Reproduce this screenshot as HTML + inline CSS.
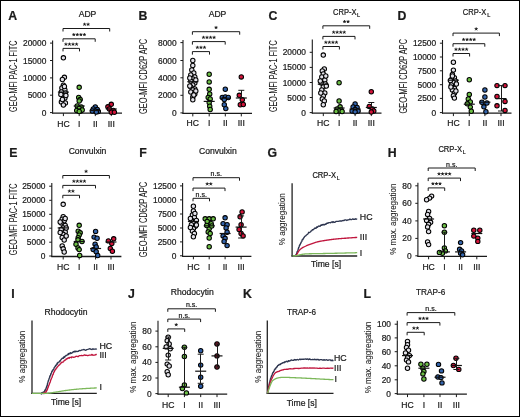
<!DOCTYPE html>
<html><head><meta charset="utf-8"><title>Figure</title>
<style>html,body{margin:0;padding:0;background:#fff;width:520px;height:417px;overflow:hidden;font-family:"Liberation Sans", sans-serif;}</style>
</head><body>
<svg width="520" height="417" viewBox="0 0 520 417" style="display:block;will-change:transform" font-family='"Liberation Sans", sans-serif' fill="#1a1a1a">
<style>text{stroke:#1a1a1a;stroke-width:0.22px;paint-order:stroke}text.v{stroke-width:0.08px}</style>
<rect x="0" y="0" width="520" height="417" fill="#fff"/>
<text x="8.3" y="19.8" font-size="12.3" text-anchor="start" font-weight="bold" stroke="#000" stroke-width="0.25">A</text>
<text x="138.6" y="19.8" font-size="12.3" text-anchor="start" font-weight="bold" stroke="#000" stroke-width="0.25">B</text>
<text x="268.4" y="19.8" font-size="12.3" text-anchor="start" font-weight="bold" stroke="#000" stroke-width="0.25">C</text>
<text x="397.6" y="19.8" font-size="12.3" text-anchor="start" font-weight="bold" stroke="#000" stroke-width="0.25">D</text>
<text x="9.2" y="157.4" font-size="12.3" text-anchor="start" font-weight="bold" stroke="#000" stroke-width="0.25">E</text>
<text x="139.2" y="157.2" font-size="12.3" text-anchor="start" font-weight="bold" stroke="#000" stroke-width="0.25">F</text>
<text x="267.6" y="157.2" font-size="12.3" text-anchor="start" font-weight="bold" stroke="#000" stroke-width="0.25">G</text>
<text x="387.8" y="157.2" font-size="12.3" text-anchor="start" font-weight="bold" stroke="#000" stroke-width="0.25">H</text>
<text x="11.2" y="298.2" font-size="12.3" text-anchor="start" font-weight="bold" stroke="#000" stroke-width="0.25">I</text>
<text x="128.0" y="298.2" font-size="12.3" text-anchor="start" font-weight="bold" stroke="#000" stroke-width="0.25">J</text>
<text x="243.0" y="298.2" font-size="12.3" text-anchor="start" font-weight="bold" stroke="#000" stroke-width="0.25">K</text>
<text x="363.4" y="298.2" font-size="12.3" text-anchor="start" font-weight="bold" stroke="#000" stroke-width="0.25">L</text>
<text x="87.5" y="17.2" font-size="8.6" text-anchor="middle">ADP</text>
<text x="217.5" y="17.2" font-size="8.6" text-anchor="middle">ADP</text>
<text x="333.0" y="14.8" font-size="8.7" textLength="23.6" lengthAdjust="spacingAndGlyphs">CRP-X</text>
<text x="357.0" y="16.70" font-size="5.6">L</text>
<text x="462.8" y="15.2" font-size="8.7" textLength="23.6" lengthAdjust="spacingAndGlyphs">CRP-X</text>
<text x="487.2" y="17.10" font-size="5.6">L</text>
<text x="87.5" y="154.4" font-size="8.6" text-anchor="middle">Convulxin</text>
<text x="217.8" y="154.4" font-size="8.6" text-anchor="middle">Convulxin</text>
<text x="438.4" y="151.8" font-size="8.7" textLength="23.6" lengthAdjust="spacingAndGlyphs">CRP-X</text>
<text x="462.8" y="153.70" font-size="5.2">L</text>
<text x="192.3" y="294.8" font-size="8.6" text-anchor="middle">Rhodocytin</text>
<text x="430.6" y="295.0" font-size="8.6" text-anchor="middle" textLength="29.2" lengthAdjust="spacingAndGlyphs">TRAP-6</text>
<text class="v" transform="translate(17.1,76.2) rotate(-90)" x="0" y="0" font-size="10.5" text-anchor="middle" textLength="71.4" lengthAdjust="spacingAndGlyphs">GEO-MFI PAC-1 FITC</text>
<text class="v" transform="translate(146.8,76.4) rotate(-90)" x="0" y="0" font-size="10.5" text-anchor="middle" textLength="75.2" lengthAdjust="spacingAndGlyphs">GEO-MFI CD62P APC</text>
<text class="v" transform="translate(276.8,76.2) rotate(-90)" x="0" y="0" font-size="10.5" text-anchor="middle" textLength="71.8" lengthAdjust="spacingAndGlyphs">GEO-MFI PAC-1 FITC</text>
<text class="v" transform="translate(406.9,76.2) rotate(-90)" x="0" y="0" font-size="10.5" text-anchor="middle" textLength="74.7" lengthAdjust="spacingAndGlyphs">GEO-MFI CD62P APC</text>
<text class="v" transform="translate(17.1,219.3) rotate(-90)" x="0" y="0" font-size="10.5" text-anchor="middle" textLength="71.8" lengthAdjust="spacingAndGlyphs">GEO-MFI PAC-1 FITC</text>
<text class="v" transform="translate(146.8,219.5) rotate(-90)" x="0" y="0" font-size="10.5" text-anchor="middle" textLength="75.3" lengthAdjust="spacingAndGlyphs">GEO-MFI CD62P APC</text>
<text class="v" transform="translate(396.2,219.2) rotate(-90)" x="0" y="0" font-size="9.3" text-anchor="middle" textLength="71.3" lengthAdjust="spacingAndGlyphs">% max. aggregation</text>
<text class="v" transform="translate(136.1,357.2) rotate(-90)" x="0" y="0" font-size="9.3" text-anchor="middle" textLength="71.2" lengthAdjust="spacingAndGlyphs">% max. aggregation</text>
<text class="v" transform="translate(370.7,357.5) rotate(-90)" x="0" y="0" font-size="9.3" text-anchor="middle" textLength="71.7" lengthAdjust="spacingAndGlyphs">% max. aggregation</text>
<line x1="52.6" y1="40.4" x2="52.6" y2="113.6" stroke="#1a1a1a" stroke-width="1.1"/>
<line x1="52.1" y1="113.1" x2="122" y2="113.1" stroke="#1a1a1a" stroke-width="1.3"/>
<line x1="50.0" y1="112.6" x2="52.6" y2="112.6" stroke="#1a1a1a" stroke-width="1.0"/>
<text x="46.300000000000004" y="115.6" font-size="8.4" text-anchor="end">0</text>
<line x1="50.0" y1="95.2" x2="52.6" y2="95.2" stroke="#1a1a1a" stroke-width="1.0"/>
<text x="46.300000000000004" y="98.2" font-size="8.4" text-anchor="end">5000</text>
<line x1="50.0" y1="77.9" x2="52.6" y2="77.9" stroke="#1a1a1a" stroke-width="1.0"/>
<text x="46.300000000000004" y="80.9" font-size="8.4" text-anchor="end">10000</text>
<line x1="50.0" y1="60.5" x2="52.6" y2="60.5" stroke="#1a1a1a" stroke-width="1.0"/>
<text x="46.300000000000004" y="63.5" font-size="8.4" text-anchor="end">15000</text>
<line x1="50.0" y1="43.1" x2="52.6" y2="43.1" stroke="#1a1a1a" stroke-width="1.0"/>
<text x="46.300000000000004" y="46.1" font-size="8.4" text-anchor="end">20000</text>
<line x1="63.4" y1="113.1" x2="63.4" y2="116.1" stroke="#1a1a1a" stroke-width="1.0"/>
<text x="63.4" y="126.6" font-size="8.6" text-anchor="middle">HC</text>
<line x1="79.2" y1="113.1" x2="79.2" y2="116.1" stroke="#1a1a1a" stroke-width="1.0"/>
<text x="79.2" y="126.6" font-size="8.6" text-anchor="middle">I</text>
<line x1="95.3" y1="113.1" x2="95.3" y2="116.1" stroke="#1a1a1a" stroke-width="1.0"/>
<text x="95.3" y="126.6" font-size="8.6" text-anchor="middle">II</text>
<line x1="111.3" y1="113.1" x2="111.3" y2="116.1" stroke="#1a1a1a" stroke-width="1.0"/>
<text x="111.3" y="126.6" font-size="8.6" text-anchor="middle">III</text>
<circle cx="63.40" cy="57.80" r="2.2" fill="#e2e1e8" stroke="#000" stroke-width="1.05"/>
<circle cx="64.40" cy="77.30" r="2.2" fill="#e2e1e8" stroke="#000" stroke-width="1.05"/>
<circle cx="62.40" cy="79.50" r="2.2" fill="#e2e1e8" stroke="#000" stroke-width="1.05"/>
<circle cx="63.40" cy="85.10" r="2.2" fill="#e2e1e8" stroke="#000" stroke-width="1.05"/>
<circle cx="61.90" cy="88.00" r="2.2" fill="#e2e1e8" stroke="#000" stroke-width="1.05"/>
<circle cx="64.90" cy="90.00" r="2.2" fill="#e2e1e8" stroke="#000" stroke-width="1.05"/>
<circle cx="61.40" cy="92.00" r="2.2" fill="#e2e1e8" stroke="#000" stroke-width="1.05"/>
<circle cx="65.40" cy="93.00" r="2.2" fill="#e2e1e8" stroke="#000" stroke-width="1.05"/>
<circle cx="63.40" cy="96.00" r="2.2" fill="#e2e1e8" stroke="#000" stroke-width="1.05"/>
<circle cx="64.90" cy="98.00" r="2.2" fill="#e2e1e8" stroke="#000" stroke-width="1.05"/>
<circle cx="61.40" cy="102.00" r="2.2" fill="#e2e1e8" stroke="#000" stroke-width="1.05"/>
<circle cx="65.40" cy="103.00" r="2.2" fill="#e2e1e8" stroke="#000" stroke-width="1.05"/>
<circle cx="63.40" cy="105.00" r="2.2" fill="#e2e1e8" stroke="#000" stroke-width="1.05"/>
<circle cx="60.90" cy="94.50" r="2.2" fill="#e2e1e8" stroke="#000" stroke-width="1.05"/>
<circle cx="65.90" cy="95.50" r="2.2" fill="#e2e1e8" stroke="#000" stroke-width="1.05"/>
<circle cx="62.40" cy="99.50" r="2.2" fill="#e2e1e8" stroke="#000" stroke-width="1.05"/>
<circle cx="64.40" cy="86.50" r="2.2" fill="#e2e1e8" stroke="#000" stroke-width="1.05"/>
<circle cx="79.20" cy="87.30" r="2.2" fill="#6cbf45" stroke="#000" stroke-width="1.05"/>
<circle cx="78.70" cy="97.50" r="2.2" fill="#6cbf45" stroke="#000" stroke-width="1.05"/>
<circle cx="80.20" cy="99.50" r="2.2" fill="#6cbf45" stroke="#000" stroke-width="1.05"/>
<circle cx="79.20" cy="101.00" r="2.2" fill="#6cbf45" stroke="#000" stroke-width="1.05"/>
<circle cx="77.20" cy="106.00" r="2.2" fill="#6cbf45" stroke="#000" stroke-width="1.05"/>
<circle cx="81.20" cy="107.00" r="2.2" fill="#6cbf45" stroke="#000" stroke-width="1.05"/>
<circle cx="79.20" cy="108.50" r="2.2" fill="#6cbf45" stroke="#000" stroke-width="1.05"/>
<circle cx="76.70" cy="110.50" r="2.2" fill="#6cbf45" stroke="#000" stroke-width="1.05"/>
<circle cx="80.70" cy="111.00" r="2.2" fill="#6cbf45" stroke="#000" stroke-width="1.05"/>
<circle cx="82.20" cy="110.00" r="2.2" fill="#6cbf45" stroke="#000" stroke-width="1.05"/>
<circle cx="79.20" cy="111.50" r="2.2" fill="#6cbf45" stroke="#000" stroke-width="1.05"/>
<circle cx="95.30" cy="107.00" r="2.2" fill="#3465ad" stroke="#000" stroke-width="1.05"/>
<circle cx="93.30" cy="109.00" r="2.2" fill="#3465ad" stroke="#000" stroke-width="1.05"/>
<circle cx="97.30" cy="109.50" r="2.2" fill="#3465ad" stroke="#000" stroke-width="1.05"/>
<circle cx="95.30" cy="111.00" r="2.2" fill="#3465ad" stroke="#000" stroke-width="1.05"/>
<circle cx="92.30" cy="111.00" r="2.2" fill="#3465ad" stroke="#000" stroke-width="1.05"/>
<circle cx="98.30" cy="111.50" r="2.2" fill="#3465ad" stroke="#000" stroke-width="1.05"/>
<circle cx="96.30" cy="112.00" r="2.2" fill="#3465ad" stroke="#000" stroke-width="1.05"/>
<circle cx="111.30" cy="104.30" r="2.2" fill="#d3143a" stroke="#000" stroke-width="1.05"/>
<circle cx="107.90" cy="106.80" r="2.2" fill="#d3143a" stroke="#000" stroke-width="1.05"/>
<circle cx="109.40" cy="109.00" r="2.2" fill="#d3143a" stroke="#000" stroke-width="1.05"/>
<circle cx="113.30" cy="110.50" r="2.2" fill="#d3143a" stroke="#000" stroke-width="1.05"/>
<circle cx="111.30" cy="112.20" r="2.2" fill="#d3143a" stroke="#000" stroke-width="1.05"/>
<circle cx="114.40" cy="112.20" r="2.2" fill="#d3143a" stroke="#000" stroke-width="1.05"/>
<line x1="57.9" y1="92.1" x2="68.9" y2="92.1" stroke="#111" stroke-width="1.2"/>
<line x1="73.7" y1="106" x2="84.7" y2="106" stroke="#111" stroke-width="1.2"/>
<line x1="89.8" y1="110.5" x2="100.8" y2="110.5" stroke="#111" stroke-width="1.2"/>
<line x1="105.8" y1="109" x2="116.8" y2="109" stroke="#111" stroke-width="1.2"/>
<path d="M63.0,31.5 V28.5 H109.7 V31.5" fill="none" stroke="#1a1a1a" stroke-width="1.0"/>
<path d="M84.57,24.40L84.57,23.15M84.57,24.40L85.76,24.01M84.57,24.40L85.31,25.41M84.57,24.40L83.84,25.41M84.57,24.40L83.39,24.01" stroke="#1a1a1a" stroke-width="0.9" stroke-linecap="round" fill="none"/>
<path d="M88.12,24.40L88.12,23.15M88.12,24.40L89.31,24.01M88.12,24.40L88.86,25.41M88.12,24.40L87.39,25.41M88.12,24.40L86.94,24.01" stroke="#1a1a1a" stroke-width="0.9" stroke-linecap="round" fill="none"/>
<path d="M63.0,41.8 V38.8 H95.2 V41.8" fill="none" stroke="#1a1a1a" stroke-width="1.0"/>
<path d="M73.77,34.70L73.77,33.45M73.77,34.70L74.96,34.31M73.77,34.70L74.51,35.71M73.77,34.70L73.04,35.71M73.77,34.70L72.59,34.31" stroke="#1a1a1a" stroke-width="0.9" stroke-linecap="round" fill="none"/>
<path d="M77.32,34.70L77.32,33.45M77.32,34.70L78.51,34.31M77.32,34.70L78.06,35.71M77.32,34.70L76.59,35.71M77.32,34.70L76.14,34.31" stroke="#1a1a1a" stroke-width="0.9" stroke-linecap="round" fill="none"/>
<path d="M80.87,34.70L80.87,33.45M80.87,34.70L82.06,34.31M80.87,34.70L81.61,35.71M80.87,34.70L80.14,35.71M80.87,34.70L79.69,34.31" stroke="#1a1a1a" stroke-width="0.9" stroke-linecap="round" fill="none"/>
<path d="M84.42,34.70L84.42,33.45M84.42,34.70L85.61,34.31M84.42,34.70L85.16,35.71M84.42,34.70L83.69,35.71M84.42,34.70L83.24,34.31" stroke="#1a1a1a" stroke-width="0.9" stroke-linecap="round" fill="none"/>
<path d="M63.0,51.4 V48.4 H79.5 V51.4" fill="none" stroke="#1a1a1a" stroke-width="1.0"/>
<path d="M65.92,44.30L65.92,43.05M65.92,44.30L67.11,43.91M65.92,44.30L66.66,45.31M65.92,44.30L65.19,45.31M65.92,44.30L64.74,43.91" stroke="#1a1a1a" stroke-width="0.9" stroke-linecap="round" fill="none"/>
<path d="M69.47,44.30L69.47,43.05M69.47,44.30L70.66,43.91M69.47,44.30L70.21,45.31M69.47,44.30L68.74,45.31M69.47,44.30L68.29,43.91" stroke="#1a1a1a" stroke-width="0.9" stroke-linecap="round" fill="none"/>
<path d="M73.02,44.30L73.02,43.05M73.02,44.30L74.21,43.91M73.02,44.30L73.76,45.31M73.02,44.30L72.29,45.31M73.02,44.30L71.84,43.91" stroke="#1a1a1a" stroke-width="0.9" stroke-linecap="round" fill="none"/>
<path d="M76.57,44.30L76.57,43.05M76.57,44.30L77.76,43.91M76.57,44.30L77.31,45.31M76.57,44.30L75.84,45.31M76.57,44.30L75.39,43.91" stroke="#1a1a1a" stroke-width="0.9" stroke-linecap="round" fill="none"/>
<line x1="183" y1="39.9" x2="183" y2="113.9" stroke="#1a1a1a" stroke-width="1.1"/>
<line x1="182.5" y1="113.4" x2="252" y2="113.4" stroke="#1a1a1a" stroke-width="1.3"/>
<line x1="180.4" y1="112.9" x2="183" y2="112.9" stroke="#1a1a1a" stroke-width="1.0"/>
<text x="176.7" y="115.9" font-size="8.4" text-anchor="end">0</text>
<line x1="180.4" y1="95.3" x2="183" y2="95.3" stroke="#1a1a1a" stroke-width="1.0"/>
<text x="176.7" y="98.3" font-size="8.4" text-anchor="end">2000</text>
<line x1="180.4" y1="77.8" x2="183" y2="77.8" stroke="#1a1a1a" stroke-width="1.0"/>
<text x="176.7" y="80.8" font-size="8.4" text-anchor="end">4000</text>
<line x1="180.4" y1="60.5" x2="183" y2="60.5" stroke="#1a1a1a" stroke-width="1.0"/>
<text x="176.7" y="63.5" font-size="8.4" text-anchor="end">6000</text>
<line x1="180.4" y1="42.6" x2="183" y2="42.6" stroke="#1a1a1a" stroke-width="1.0"/>
<text x="176.7" y="45.6" font-size="8.4" text-anchor="end">8000</text>
<line x1="192.8" y1="113.4" x2="192.8" y2="116.4" stroke="#1a1a1a" stroke-width="1.0"/>
<text x="192.8" y="126.4" font-size="8.6" text-anchor="middle">HC</text>
<line x1="209.2" y1="113.4" x2="209.2" y2="116.4" stroke="#1a1a1a" stroke-width="1.0"/>
<text x="209.2" y="126.4" font-size="8.6" text-anchor="middle">I</text>
<line x1="225.3" y1="113.4" x2="225.3" y2="116.4" stroke="#1a1a1a" stroke-width="1.0"/>
<text x="225.3" y="126.4" font-size="8.6" text-anchor="middle">II</text>
<line x1="241.3" y1="113.4" x2="241.3" y2="116.4" stroke="#1a1a1a" stroke-width="1.0"/>
<text x="241.3" y="126.4" font-size="8.6" text-anchor="middle">III</text>
<circle cx="192.80" cy="60.50" r="2.2" fill="#e2e1e8" stroke="#000" stroke-width="1.05"/>
<circle cx="192.80" cy="65.50" r="2.2" fill="#e2e1e8" stroke="#000" stroke-width="1.05"/>
<circle cx="191.80" cy="70.00" r="2.2" fill="#e2e1e8" stroke="#000" stroke-width="1.05"/>
<circle cx="193.80" cy="73.00" r="2.2" fill="#e2e1e8" stroke="#000" stroke-width="1.05"/>
<circle cx="190.80" cy="75.00" r="2.2" fill="#e2e1e8" stroke="#000" stroke-width="1.05"/>
<circle cx="194.80" cy="77.00" r="2.2" fill="#e2e1e8" stroke="#000" stroke-width="1.05"/>
<circle cx="192.80" cy="79.00" r="2.2" fill="#e2e1e8" stroke="#000" stroke-width="1.05"/>
<circle cx="190.80" cy="81.00" r="2.2" fill="#e2e1e8" stroke="#000" stroke-width="1.05"/>
<circle cx="194.80" cy="83.00" r="2.2" fill="#e2e1e8" stroke="#000" stroke-width="1.05"/>
<circle cx="192.80" cy="85.00" r="2.2" fill="#e2e1e8" stroke="#000" stroke-width="1.05"/>
<circle cx="190.80" cy="87.00" r="2.2" fill="#e2e1e8" stroke="#000" stroke-width="1.05"/>
<circle cx="194.80" cy="89.00" r="2.2" fill="#e2e1e8" stroke="#000" stroke-width="1.05"/>
<circle cx="192.80" cy="90.00" r="2.2" fill="#e2e1e8" stroke="#000" stroke-width="1.05"/>
<circle cx="190.80" cy="92.00" r="2.2" fill="#e2e1e8" stroke="#000" stroke-width="1.05"/>
<circle cx="194.80" cy="94.00" r="2.2" fill="#e2e1e8" stroke="#000" stroke-width="1.05"/>
<circle cx="192.80" cy="97.00" r="2.2" fill="#e2e1e8" stroke="#000" stroke-width="1.05"/>
<circle cx="192.80" cy="99.70" r="2.2" fill="#e2e1e8" stroke="#000" stroke-width="1.05"/>
<circle cx="189.80" cy="78.00" r="2.2" fill="#e2e1e8" stroke="#000" stroke-width="1.05"/>
<circle cx="195.80" cy="80.00" r="2.2" fill="#e2e1e8" stroke="#000" stroke-width="1.05"/>
<circle cx="189.80" cy="86.00" r="2.2" fill="#e2e1e8" stroke="#000" stroke-width="1.05"/>
<circle cx="195.80" cy="91.00" r="2.2" fill="#e2e1e8" stroke="#000" stroke-width="1.05"/>
<circle cx="193.80" cy="95.00" r="2.2" fill="#e2e1e8" stroke="#000" stroke-width="1.05"/>
<circle cx="209.20" cy="74.20" r="2.2" fill="#6cbf45" stroke="#000" stroke-width="1.05"/>
<circle cx="209.20" cy="81.90" r="2.2" fill="#6cbf45" stroke="#000" stroke-width="1.05"/>
<circle cx="209.20" cy="89.30" r="2.2" fill="#6cbf45" stroke="#000" stroke-width="1.05"/>
<circle cx="209.70" cy="93.90" r="2.2" fill="#6cbf45" stroke="#000" stroke-width="1.05"/>
<circle cx="208.20" cy="97.50" r="2.2" fill="#6cbf45" stroke="#000" stroke-width="1.05"/>
<circle cx="210.20" cy="99.00" r="2.2" fill="#6cbf45" stroke="#000" stroke-width="1.05"/>
<circle cx="209.20" cy="102.50" r="2.2" fill="#6cbf45" stroke="#000" stroke-width="1.05"/>
<circle cx="209.70" cy="106.20" r="2.2" fill="#6cbf45" stroke="#000" stroke-width="1.05"/>
<circle cx="210.20" cy="109.50" r="2.2" fill="#6cbf45" stroke="#000" stroke-width="1.05"/>
<circle cx="225.30" cy="89.20" r="2.2" fill="#3465ad" stroke="#000" stroke-width="1.05"/>
<circle cx="222.30" cy="97.50" r="2.2" fill="#3465ad" stroke="#000" stroke-width="1.05"/>
<circle cx="225.30" cy="97.00" r="2.2" fill="#3465ad" stroke="#000" stroke-width="1.05"/>
<circle cx="228.30" cy="97.50" r="2.2" fill="#3465ad" stroke="#000" stroke-width="1.05"/>
<circle cx="224.30" cy="99.50" r="2.2" fill="#3465ad" stroke="#000" stroke-width="1.05"/>
<circle cx="224.30" cy="104.70" r="2.2" fill="#3465ad" stroke="#000" stroke-width="1.05"/>
<circle cx="225.80" cy="108.60" r="2.2" fill="#3465ad" stroke="#000" stroke-width="1.05"/>
<circle cx="241.30" cy="76.90" r="2.2" fill="#d3143a" stroke="#000" stroke-width="1.05"/>
<circle cx="239.30" cy="95.30" r="2.2" fill="#d3143a" stroke="#000" stroke-width="1.05"/>
<circle cx="242.30" cy="99.70" r="2.2" fill="#d3143a" stroke="#000" stroke-width="1.05"/>
<circle cx="240.30" cy="104.70" r="2.2" fill="#d3143a" stroke="#000" stroke-width="1.05"/>
<circle cx="243.30" cy="104.50" r="2.2" fill="#d3143a" stroke="#000" stroke-width="1.05"/>
<line x1="187.3" y1="81.7" x2="198.3" y2="81.7" stroke="#111" stroke-width="1.2"/>
<line x1="203.7" y1="101.4" x2="214.7" y2="101.4" stroke="#111" stroke-width="1.2"/>
<line x1="219.8" y1="98.2" x2="230.8" y2="98.2" stroke="#111" stroke-width="1.2"/>
<line x1="235.8" y1="98" x2="246.8" y2="98" stroke="#111" stroke-width="1.2"/>
<line x1="241.5" y1="90.3" x2="241.5" y2="98" stroke="#1a1a1a" stroke-width="1.0"/>
<line x1="238.3" y1="90.3" x2="244.3" y2="90.3" stroke="#1a1a1a" stroke-width="1.0"/>
<path d="M192.4,34.7 V31.7 H239.70000000000002 V34.7" fill="none" stroke="#1a1a1a" stroke-width="1.0"/>
<path d="M216.05,27.60L216.05,26.35M216.05,27.60L217.24,27.21M216.05,27.60L216.78,28.61M216.05,27.60L215.32,28.61M216.05,27.60L214.86,27.21" stroke="#1a1a1a" stroke-width="0.9" stroke-linecap="round" fill="none"/>
<path d="M192.4,44.6 V41.6 H225.20000000000002 V44.6" fill="none" stroke="#1a1a1a" stroke-width="1.0"/>
<path d="M203.48,37.50L203.48,36.25M203.48,37.50L204.66,37.11M203.48,37.50L204.21,38.51M203.48,37.50L202.74,38.51M203.48,37.50L202.29,37.11" stroke="#1a1a1a" stroke-width="0.9" stroke-linecap="round" fill="none"/>
<path d="M207.03,37.50L207.03,36.25M207.03,37.50L208.21,37.11M207.03,37.50L207.76,38.51M207.03,37.50L206.29,38.51M207.03,37.50L205.84,37.11" stroke="#1a1a1a" stroke-width="0.9" stroke-linecap="round" fill="none"/>
<path d="M210.58,37.50L210.58,36.25M210.58,37.50L211.76,37.11M210.58,37.50L211.31,38.51M210.58,37.50L209.84,38.51M210.58,37.50L209.39,37.11" stroke="#1a1a1a" stroke-width="0.9" stroke-linecap="round" fill="none"/>
<path d="M214.13,37.50L214.13,36.25M214.13,37.50L215.31,37.11M214.13,37.50L214.86,38.51M214.13,37.50L213.39,38.51M214.13,37.50L212.94,37.11" stroke="#1a1a1a" stroke-width="0.9" stroke-linecap="round" fill="none"/>
<path d="M192.4,54.6 V51.6 H209.5 V54.6" fill="none" stroke="#1a1a1a" stroke-width="1.0"/>
<path d="M197.40,47.50L197.40,46.25M197.40,47.50L198.59,47.11M197.40,47.50L198.13,48.51M197.40,47.50L196.67,48.51M197.40,47.50L196.21,47.11" stroke="#1a1a1a" stroke-width="0.9" stroke-linecap="round" fill="none"/>
<path d="M200.95,47.50L200.95,46.25M200.95,47.50L202.14,47.11M200.95,47.50L201.68,48.51M200.95,47.50L200.22,48.51M200.95,47.50L199.76,47.11" stroke="#1a1a1a" stroke-width="0.9" stroke-linecap="round" fill="none"/>
<path d="M204.50,47.50L204.50,46.25M204.50,47.50L205.69,47.11M204.50,47.50L205.23,48.51M204.50,47.50L203.77,48.51M204.50,47.50L203.31,47.11" stroke="#1a1a1a" stroke-width="0.9" stroke-linecap="round" fill="none"/>
<line x1="312.3" y1="39.6" x2="312.3" y2="113.6" stroke="#1a1a1a" stroke-width="1.1"/>
<line x1="311.8" y1="113.1" x2="381.5" y2="113.1" stroke="#1a1a1a" stroke-width="1.3"/>
<line x1="309.7" y1="112.6" x2="312.3" y2="112.6" stroke="#1a1a1a" stroke-width="1.0"/>
<text x="306.0" y="115.6" font-size="8.4" text-anchor="end">0</text>
<line x1="309.7" y1="97.5" x2="312.3" y2="97.5" stroke="#1a1a1a" stroke-width="1.0"/>
<text x="306.0" y="100.5" font-size="8.4" text-anchor="end">5000</text>
<line x1="309.7" y1="82.5" x2="312.3" y2="82.5" stroke="#1a1a1a" stroke-width="1.0"/>
<text x="306.0" y="85.5" font-size="8.4" text-anchor="end">10000</text>
<line x1="309.7" y1="67.4" x2="312.3" y2="67.4" stroke="#1a1a1a" stroke-width="1.0"/>
<text x="306.0" y="70.4" font-size="8.4" text-anchor="end">15000</text>
<line x1="309.7" y1="52.3" x2="312.3" y2="52.3" stroke="#1a1a1a" stroke-width="1.0"/>
<text x="306.0" y="55.3" font-size="8.4" text-anchor="end">20000</text>
<line x1="323.3" y1="113.1" x2="323.3" y2="116.1" stroke="#1a1a1a" stroke-width="1.0"/>
<text x="323.3" y="126.0" font-size="8.6" text-anchor="middle">HC</text>
<line x1="339.1" y1="113.1" x2="339.1" y2="116.1" stroke="#1a1a1a" stroke-width="1.0"/>
<text x="339.1" y="126.0" font-size="8.6" text-anchor="middle">I</text>
<line x1="355.1" y1="113.1" x2="355.1" y2="116.1" stroke="#1a1a1a" stroke-width="1.0"/>
<text x="355.1" y="126.0" font-size="8.6" text-anchor="middle">II</text>
<line x1="371.3" y1="113.1" x2="371.3" y2="116.1" stroke="#1a1a1a" stroke-width="1.0"/>
<text x="371.3" y="126.0" font-size="8.6" text-anchor="middle">III</text>
<circle cx="323.30" cy="55.10" r="2.2" fill="#e2e1e8" stroke="#000" stroke-width="1.05"/>
<circle cx="324.30" cy="69.00" r="2.2" fill="#e2e1e8" stroke="#000" stroke-width="1.05"/>
<circle cx="322.30" cy="71.00" r="2.2" fill="#e2e1e8" stroke="#000" stroke-width="1.05"/>
<circle cx="323.30" cy="74.00" r="2.2" fill="#e2e1e8" stroke="#000" stroke-width="1.05"/>
<circle cx="321.80" cy="77.00" r="2.2" fill="#e2e1e8" stroke="#000" stroke-width="1.05"/>
<circle cx="324.80" cy="80.00" r="2.2" fill="#e2e1e8" stroke="#000" stroke-width="1.05"/>
<circle cx="321.30" cy="83.00" r="2.2" fill="#e2e1e8" stroke="#000" stroke-width="1.05"/>
<circle cx="325.30" cy="84.00" r="2.2" fill="#e2e1e8" stroke="#000" stroke-width="1.05"/>
<circle cx="323.30" cy="87.00" r="2.2" fill="#e2e1e8" stroke="#000" stroke-width="1.05"/>
<circle cx="321.80" cy="90.00" r="2.2" fill="#e2e1e8" stroke="#000" stroke-width="1.05"/>
<circle cx="324.80" cy="93.00" r="2.2" fill="#e2e1e8" stroke="#000" stroke-width="1.05"/>
<circle cx="323.30" cy="96.00" r="2.2" fill="#e2e1e8" stroke="#000" stroke-width="1.05"/>
<circle cx="322.30" cy="99.00" r="2.2" fill="#e2e1e8" stroke="#000" stroke-width="1.05"/>
<circle cx="324.30" cy="101.00" r="2.2" fill="#e2e1e8" stroke="#000" stroke-width="1.05"/>
<circle cx="323.30" cy="104.70" r="2.2" fill="#e2e1e8" stroke="#000" stroke-width="1.05"/>
<circle cx="320.30" cy="81.00" r="2.2" fill="#e2e1e8" stroke="#000" stroke-width="1.05"/>
<circle cx="326.30" cy="86.00" r="2.2" fill="#e2e1e8" stroke="#000" stroke-width="1.05"/>
<circle cx="320.80" cy="93.00" r="2.2" fill="#e2e1e8" stroke="#000" stroke-width="1.05"/>
<circle cx="325.80" cy="76.00" r="2.2" fill="#e2e1e8" stroke="#000" stroke-width="1.05"/>
<circle cx="339.10" cy="82.70" r="2.2" fill="#6cbf45" stroke="#000" stroke-width="1.05"/>
<circle cx="339.10" cy="101.00" r="2.2" fill="#6cbf45" stroke="#000" stroke-width="1.05"/>
<circle cx="340.10" cy="106.80" r="2.2" fill="#6cbf45" stroke="#000" stroke-width="1.05"/>
<circle cx="337.10" cy="109.00" r="2.2" fill="#6cbf45" stroke="#000" stroke-width="1.05"/>
<circle cx="341.10" cy="110.00" r="2.2" fill="#6cbf45" stroke="#000" stroke-width="1.05"/>
<circle cx="339.10" cy="111.00" r="2.2" fill="#6cbf45" stroke="#000" stroke-width="1.05"/>
<circle cx="336.10" cy="111.50" r="2.2" fill="#6cbf45" stroke="#000" stroke-width="1.05"/>
<circle cx="342.10" cy="111.50" r="2.2" fill="#6cbf45" stroke="#000" stroke-width="1.05"/>
<circle cx="355.10" cy="104.00" r="2.2" fill="#3465ad" stroke="#000" stroke-width="1.05"/>
<circle cx="353.10" cy="107.00" r="2.2" fill="#3465ad" stroke="#000" stroke-width="1.05"/>
<circle cx="357.10" cy="107.50" r="2.2" fill="#3465ad" stroke="#000" stroke-width="1.05"/>
<circle cx="355.10" cy="109.50" r="2.2" fill="#3465ad" stroke="#000" stroke-width="1.05"/>
<circle cx="352.10" cy="111.00" r="2.2" fill="#3465ad" stroke="#000" stroke-width="1.05"/>
<circle cx="358.10" cy="111.00" r="2.2" fill="#3465ad" stroke="#000" stroke-width="1.05"/>
<circle cx="355.10" cy="111.80" r="2.2" fill="#3465ad" stroke="#000" stroke-width="1.05"/>
<circle cx="371.30" cy="91.70" r="2.2" fill="#d3143a" stroke="#000" stroke-width="1.05"/>
<circle cx="369.30" cy="106.40" r="2.2" fill="#d3143a" stroke="#000" stroke-width="1.05"/>
<circle cx="372.30" cy="109.00" r="2.2" fill="#d3143a" stroke="#000" stroke-width="1.05"/>
<circle cx="373.80" cy="111.00" r="2.2" fill="#d3143a" stroke="#000" stroke-width="1.05"/>
<circle cx="371.30" cy="112.00" r="2.2" fill="#d3143a" stroke="#000" stroke-width="1.05"/>
<line x1="317.8" y1="84.2" x2="328.8" y2="84.2" stroke="#111" stroke-width="1.2"/>
<line x1="333.6" y1="108" x2="344.6" y2="108" stroke="#111" stroke-width="1.2"/>
<line x1="349.6" y1="109" x2="360.6" y2="109" stroke="#111" stroke-width="1.2"/>
<line x1="365.8" y1="107.5" x2="376.8" y2="107.5" stroke="#111" stroke-width="1.2"/>
<line x1="371.5" y1="102.5" x2="371.5" y2="107.5" stroke="#1a1a1a" stroke-width="1.0"/>
<line x1="368.3" y1="102.5" x2="374.3" y2="102.5" stroke="#1a1a1a" stroke-width="1.0"/>
<path d="M322.90000000000003,28.8 V25.8 H369.7 V28.8" fill="none" stroke="#1a1a1a" stroke-width="1.0"/>
<path d="M344.53,21.70L344.53,20.45M344.53,21.70L345.71,21.31M344.53,21.70L345.26,22.71M344.53,21.70L343.79,22.71M344.53,21.70L343.34,21.31" stroke="#1a1a1a" stroke-width="0.9" stroke-linecap="round" fill="none"/>
<path d="M348.08,21.70L348.08,20.45M348.08,21.70L349.26,21.31M348.08,21.70L348.81,22.71M348.08,21.70L347.34,22.71M348.08,21.70L346.89,21.31" stroke="#1a1a1a" stroke-width="0.9" stroke-linecap="round" fill="none"/>
<path d="M322.90000000000003,39.4 V36.4 H355.0 V39.4" fill="none" stroke="#1a1a1a" stroke-width="1.0"/>
<path d="M333.63,32.30L333.63,31.05M333.63,32.30L334.81,31.91M333.63,32.30L334.36,33.31M333.63,32.30L332.89,33.31M333.63,32.30L332.44,31.91" stroke="#1a1a1a" stroke-width="0.9" stroke-linecap="round" fill="none"/>
<path d="M337.18,32.30L337.18,31.05M337.18,32.30L338.36,31.91M337.18,32.30L337.91,33.31M337.18,32.30L336.44,33.31M337.18,32.30L335.99,31.91" stroke="#1a1a1a" stroke-width="0.9" stroke-linecap="round" fill="none"/>
<path d="M340.73,32.30L340.73,31.05M340.73,32.30L341.91,31.91M340.73,32.30L341.46,33.31M340.73,32.30L339.99,33.31M340.73,32.30L339.54,31.91" stroke="#1a1a1a" stroke-width="0.9" stroke-linecap="round" fill="none"/>
<path d="M344.28,32.30L344.28,31.05M344.28,32.30L345.46,31.91M344.28,32.30L345.01,33.31M344.28,32.30L343.54,33.31M344.28,32.30L343.09,31.91" stroke="#1a1a1a" stroke-width="0.9" stroke-linecap="round" fill="none"/>
<path d="M322.90000000000003,49.5 V46.5 H339.40000000000003 V49.5" fill="none" stroke="#1a1a1a" stroke-width="1.0"/>
<path d="M325.83,42.40L325.83,41.15M325.83,42.40L327.01,42.01M325.83,42.40L326.56,43.41M325.83,42.40L325.09,43.41M325.83,42.40L324.64,42.01" stroke="#1a1a1a" stroke-width="0.9" stroke-linecap="round" fill="none"/>
<path d="M329.38,42.40L329.38,41.15M329.38,42.40L330.56,42.01M329.38,42.40L330.11,43.41M329.38,42.40L328.64,43.41M329.38,42.40L328.19,42.01" stroke="#1a1a1a" stroke-width="0.9" stroke-linecap="round" fill="none"/>
<path d="M332.93,42.40L332.93,41.15M332.93,42.40L334.11,42.01M332.93,42.40L333.66,43.41M332.93,42.40L332.19,43.41M332.93,42.40L331.74,42.01" stroke="#1a1a1a" stroke-width="0.9" stroke-linecap="round" fill="none"/>
<path d="M336.48,42.40L336.48,41.15M336.48,42.40L337.66,42.01M336.48,42.40L337.21,43.41M336.48,42.40L335.74,43.41M336.48,42.40L335.29,42.01" stroke="#1a1a1a" stroke-width="0.9" stroke-linecap="round" fill="none"/>
<line x1="442.5" y1="40.0" x2="442.5" y2="113.6" stroke="#1a1a1a" stroke-width="1.1"/>
<line x1="442.0" y1="113.1" x2="511.5" y2="113.1" stroke="#1a1a1a" stroke-width="1.3"/>
<line x1="439.9" y1="112.6" x2="442.5" y2="112.6" stroke="#1a1a1a" stroke-width="1.0"/>
<text x="436.2" y="115.6" font-size="8.4" text-anchor="end">0</text>
<line x1="439.9" y1="98.4" x2="442.5" y2="98.4" stroke="#1a1a1a" stroke-width="1.0"/>
<text x="436.2" y="101.4" font-size="8.4" text-anchor="end">2500</text>
<line x1="439.9" y1="84.7" x2="442.5" y2="84.7" stroke="#1a1a1a" stroke-width="1.0"/>
<text x="436.2" y="87.7" font-size="8.4" text-anchor="end">5000</text>
<line x1="439.9" y1="70.8" x2="442.5" y2="70.8" stroke="#1a1a1a" stroke-width="1.0"/>
<text x="436.2" y="73.8" font-size="8.4" text-anchor="end">7500</text>
<line x1="439.9" y1="57.0" x2="442.5" y2="57.0" stroke="#1a1a1a" stroke-width="1.0"/>
<text x="436.2" y="60.0" font-size="8.4" text-anchor="end">10000</text>
<line x1="439.9" y1="43.2" x2="442.5" y2="43.2" stroke="#1a1a1a" stroke-width="1.0"/>
<text x="436.2" y="46.2" font-size="8.4" text-anchor="end">12500</text>
<line x1="453.4" y1="113.1" x2="453.4" y2="116.1" stroke="#1a1a1a" stroke-width="1.0"/>
<text x="453.4" y="126.4" font-size="8.6" text-anchor="middle">HC</text>
<line x1="469.3" y1="113.1" x2="469.3" y2="116.1" stroke="#1a1a1a" stroke-width="1.0"/>
<text x="469.3" y="126.4" font-size="8.6" text-anchor="middle">I</text>
<line x1="484.9" y1="113.1" x2="484.9" y2="116.1" stroke="#1a1a1a" stroke-width="1.0"/>
<text x="484.9" y="126.4" font-size="8.6" text-anchor="middle">II</text>
<line x1="501.0" y1="113.1" x2="501.0" y2="116.1" stroke="#1a1a1a" stroke-width="1.0"/>
<text x="501.0" y="126.4" font-size="8.6" text-anchor="middle">III</text>
<circle cx="453.40" cy="62.20" r="2.2" fill="#e2e1e8" stroke="#000" stroke-width="1.05"/>
<circle cx="453.40" cy="70.10" r="2.2" fill="#e2e1e8" stroke="#000" stroke-width="1.05"/>
<circle cx="452.40" cy="74.50" r="2.2" fill="#e2e1e8" stroke="#000" stroke-width="1.05"/>
<circle cx="454.40" cy="77.70" r="2.2" fill="#e2e1e8" stroke="#000" stroke-width="1.05"/>
<circle cx="451.40" cy="79.40" r="2.2" fill="#e2e1e8" stroke="#000" stroke-width="1.05"/>
<circle cx="455.40" cy="81.00" r="2.2" fill="#e2e1e8" stroke="#000" stroke-width="1.05"/>
<circle cx="453.40" cy="82.60" r="2.2" fill="#e2e1e8" stroke="#000" stroke-width="1.05"/>
<circle cx="451.40" cy="85.00" r="2.2" fill="#e2e1e8" stroke="#000" stroke-width="1.05"/>
<circle cx="454.40" cy="88.30" r="2.2" fill="#e2e1e8" stroke="#000" stroke-width="1.05"/>
<circle cx="452.40" cy="90.00" r="2.2" fill="#e2e1e8" stroke="#000" stroke-width="1.05"/>
<circle cx="454.40" cy="93.20" r="2.2" fill="#e2e1e8" stroke="#000" stroke-width="1.05"/>
<circle cx="453.40" cy="95.70" r="2.2" fill="#e2e1e8" stroke="#000" stroke-width="1.05"/>
<circle cx="454.40" cy="98.10" r="2.2" fill="#e2e1e8" stroke="#000" stroke-width="1.05"/>
<circle cx="450.40" cy="80.50" r="2.2" fill="#e2e1e8" stroke="#000" stroke-width="1.05"/>
<circle cx="456.40" cy="84.00" r="2.2" fill="#e2e1e8" stroke="#000" stroke-width="1.05"/>
<circle cx="450.90" cy="87.00" r="2.2" fill="#e2e1e8" stroke="#000" stroke-width="1.05"/>
<circle cx="455.90" cy="91.00" r="2.2" fill="#e2e1e8" stroke="#000" stroke-width="1.05"/>
<circle cx="452.40" cy="76.00" r="2.2" fill="#e2e1e8" stroke="#000" stroke-width="1.05"/>
<circle cx="469.30" cy="79.70" r="2.2" fill="#6cbf45" stroke="#000" stroke-width="1.05"/>
<circle cx="469.30" cy="94.40" r="2.2" fill="#6cbf45" stroke="#000" stroke-width="1.05"/>
<circle cx="468.30" cy="98.90" r="2.2" fill="#6cbf45" stroke="#000" stroke-width="1.05"/>
<circle cx="470.30" cy="101.90" r="2.2" fill="#6cbf45" stroke="#000" stroke-width="1.05"/>
<circle cx="467.30" cy="103.80" r="2.2" fill="#6cbf45" stroke="#000" stroke-width="1.05"/>
<circle cx="470.30" cy="107.10" r="2.2" fill="#6cbf45" stroke="#000" stroke-width="1.05"/>
<circle cx="471.30" cy="111.20" r="2.2" fill="#6cbf45" stroke="#000" stroke-width="1.05"/>
<circle cx="484.90" cy="90.00" r="2.2" fill="#3465ad" stroke="#000" stroke-width="1.05"/>
<circle cx="484.90" cy="97.00" r="2.2" fill="#3465ad" stroke="#000" stroke-width="1.05"/>
<circle cx="481.90" cy="102.20" r="2.2" fill="#3465ad" stroke="#000" stroke-width="1.05"/>
<circle cx="486.90" cy="103.00" r="2.2" fill="#3465ad" stroke="#000" stroke-width="1.05"/>
<circle cx="483.90" cy="106.80" r="2.2" fill="#3465ad" stroke="#000" stroke-width="1.05"/>
<circle cx="485.90" cy="111.70" r="2.2" fill="#3465ad" stroke="#000" stroke-width="1.05"/>
<circle cx="497.00" cy="85.60" r="2.2" fill="#d3143a" stroke="#000" stroke-width="1.05"/>
<circle cx="505.00" cy="85.60" r="2.2" fill="#d3143a" stroke="#000" stroke-width="1.05"/>
<circle cx="497.00" cy="96.50" r="2.2" fill="#d3143a" stroke="#000" stroke-width="1.05"/>
<circle cx="505.00" cy="101.40" r="2.2" fill="#d3143a" stroke="#000" stroke-width="1.05"/>
<circle cx="497.00" cy="105.80" r="2.2" fill="#d3143a" stroke="#000" stroke-width="1.05"/>
<circle cx="505.00" cy="110.40" r="2.2" fill="#d3143a" stroke="#000" stroke-width="1.05"/>
<line x1="447.9" y1="80.2" x2="458.9" y2="80.2" stroke="#111" stroke-width="1.2"/>
<line x1="463.8" y1="104.2" x2="474.8" y2="104.2" stroke="#111" stroke-width="1.2"/>
<line x1="479.4" y1="102.2" x2="490.4" y2="102.2" stroke="#111" stroke-width="1.2"/>
<line x1="495.5" y1="98.6" x2="506.5" y2="98.6" stroke="#111" stroke-width="1.2"/>
<line x1="501.5" y1="85.6" x2="501.5" y2="98.6" stroke="#1a1a1a" stroke-width="1.0"/>
<line x1="498.0" y1="85.6" x2="504.0" y2="85.6" stroke="#1a1a1a" stroke-width="1.0"/>
<line x1="501.5" y1="98.6" x2="501.5" y2="111" stroke="#1a1a1a" stroke-width="1.0"/>
<line x1="498.0" y1="111" x2="504.0" y2="111" stroke="#1a1a1a" stroke-width="1.0"/>
<path d="M453.0,36.1 V33.1 H499.4 V36.1" fill="none" stroke="#1a1a1a" stroke-width="1.0"/>
<path d="M476.20,29.00L476.20,27.75M476.20,29.00L477.39,28.61M476.20,29.00L476.93,30.01M476.20,29.00L475.47,30.01M476.20,29.00L475.01,28.61" stroke="#1a1a1a" stroke-width="0.9" stroke-linecap="round" fill="none"/>
<path d="M453.0,46.7 V43.7 H484.79999999999995 V46.7" fill="none" stroke="#1a1a1a" stroke-width="1.0"/>
<path d="M463.57,39.60L463.57,38.35M463.57,39.60L464.76,39.21M463.57,39.60L464.31,40.61M463.57,39.60L462.84,40.61M463.57,39.60L462.39,39.21" stroke="#1a1a1a" stroke-width="0.9" stroke-linecap="round" fill="none"/>
<path d="M467.12,39.60L467.12,38.35M467.12,39.60L468.31,39.21M467.12,39.60L467.86,40.61M467.12,39.60L466.39,40.61M467.12,39.60L465.94,39.21" stroke="#1a1a1a" stroke-width="0.9" stroke-linecap="round" fill="none"/>
<path d="M470.68,39.60L470.68,38.35M470.68,39.60L471.86,39.21M470.68,39.60L471.41,40.61M470.68,39.60L469.94,40.61M470.68,39.60L469.49,39.21" stroke="#1a1a1a" stroke-width="0.9" stroke-linecap="round" fill="none"/>
<path d="M474.22,39.60L474.22,38.35M474.22,39.60L475.41,39.21M474.22,39.60L474.96,40.61M474.22,39.60L473.49,40.61M474.22,39.60L473.04,39.21" stroke="#1a1a1a" stroke-width="0.9" stroke-linecap="round" fill="none"/>
<path d="M453.0,56.5 V53.5 H469.6 V56.5" fill="none" stroke="#1a1a1a" stroke-width="1.0"/>
<path d="M455.98,49.40L455.98,48.15M455.98,49.40L457.16,49.01M455.98,49.40L456.71,50.41M455.98,49.40L455.24,50.41M455.98,49.40L454.79,49.01" stroke="#1a1a1a" stroke-width="0.9" stroke-linecap="round" fill="none"/>
<path d="M459.53,49.40L459.53,48.15M459.53,49.40L460.71,49.01M459.53,49.40L460.26,50.41M459.53,49.40L458.79,50.41M459.53,49.40L458.34,49.01" stroke="#1a1a1a" stroke-width="0.9" stroke-linecap="round" fill="none"/>
<path d="M463.08,49.40L463.08,48.15M463.08,49.40L464.26,49.01M463.08,49.40L463.81,50.41M463.08,49.40L462.34,50.41M463.08,49.40L461.89,49.01" stroke="#1a1a1a" stroke-width="0.9" stroke-linecap="round" fill="none"/>
<path d="M466.62,49.40L466.62,48.15M466.62,49.40L467.81,49.01M466.62,49.40L467.36,50.41M466.62,49.40L465.89,50.41M466.62,49.40L465.44,49.01" stroke="#1a1a1a" stroke-width="0.9" stroke-linecap="round" fill="none"/>
<line x1="51.8" y1="183.1" x2="51.8" y2="257.0" stroke="#1a1a1a" stroke-width="1.1"/>
<line x1="51.3" y1="256.5" x2="121.4" y2="256.5" stroke="#1a1a1a" stroke-width="1.3"/>
<line x1="49.199999999999996" y1="256.0" x2="51.8" y2="256.0" stroke="#1a1a1a" stroke-width="1.0"/>
<text x="45.5" y="259.0" font-size="8.4" text-anchor="end">0</text>
<line x1="49.199999999999996" y1="242.2" x2="51.8" y2="242.2" stroke="#1a1a1a" stroke-width="1.0"/>
<text x="45.5" y="245.2" font-size="8.4" text-anchor="end">5000</text>
<line x1="49.199999999999996" y1="228.2" x2="51.8" y2="228.2" stroke="#1a1a1a" stroke-width="1.0"/>
<text x="45.5" y="231.2" font-size="8.4" text-anchor="end">10000</text>
<line x1="49.199999999999996" y1="214.3" x2="51.8" y2="214.3" stroke="#1a1a1a" stroke-width="1.0"/>
<text x="45.5" y="217.3" font-size="8.4" text-anchor="end">15000</text>
<line x1="49.199999999999996" y1="200.3" x2="51.8" y2="200.3" stroke="#1a1a1a" stroke-width="1.0"/>
<text x="45.5" y="203.3" font-size="8.4" text-anchor="end">20000</text>
<line x1="49.199999999999996" y1="186.2" x2="51.8" y2="186.2" stroke="#1a1a1a" stroke-width="1.0"/>
<text x="45.5" y="189.2" font-size="8.4" text-anchor="end">25000</text>
<line x1="63.2" y1="256.5" x2="63.2" y2="259.5" stroke="#1a1a1a" stroke-width="1.0"/>
<text x="63.2" y="269.6" font-size="8.6" text-anchor="middle">HC</text>
<line x1="79.2" y1="256.5" x2="79.2" y2="259.5" stroke="#1a1a1a" stroke-width="1.0"/>
<text x="79.2" y="269.6" font-size="8.6" text-anchor="middle">I</text>
<line x1="95.6" y1="256.5" x2="95.6" y2="259.5" stroke="#1a1a1a" stroke-width="1.0"/>
<text x="95.6" y="269.6" font-size="8.6" text-anchor="middle">II</text>
<line x1="111.0" y1="256.5" x2="111.0" y2="259.5" stroke="#1a1a1a" stroke-width="1.0"/>
<text x="111.0" y="269.6" font-size="8.6" text-anchor="middle">III</text>
<circle cx="63.20" cy="204.30" r="2.2" fill="#e2e1e8" stroke="#000" stroke-width="1.05"/>
<circle cx="63.20" cy="216.70" r="2.2" fill="#e2e1e8" stroke="#000" stroke-width="1.05"/>
<circle cx="62.20" cy="219.10" r="2.2" fill="#e2e1e8" stroke="#000" stroke-width="1.05"/>
<circle cx="64.20" cy="220.70" r="2.2" fill="#e2e1e8" stroke="#000" stroke-width="1.05"/>
<circle cx="61.20" cy="223.10" r="2.2" fill="#e2e1e8" stroke="#000" stroke-width="1.05"/>
<circle cx="65.20" cy="225.50" r="2.2" fill="#e2e1e8" stroke="#000" stroke-width="1.05"/>
<circle cx="63.20" cy="227.90" r="2.2" fill="#e2e1e8" stroke="#000" stroke-width="1.05"/>
<circle cx="61.20" cy="229.50" r="2.2" fill="#e2e1e8" stroke="#000" stroke-width="1.05"/>
<circle cx="65.20" cy="231.90" r="2.2" fill="#e2e1e8" stroke="#000" stroke-width="1.05"/>
<circle cx="63.20" cy="234.30" r="2.2" fill="#e2e1e8" stroke="#000" stroke-width="1.05"/>
<circle cx="62.20" cy="237.50" r="2.2" fill="#e2e1e8" stroke="#000" stroke-width="1.05"/>
<circle cx="64.20" cy="240.00" r="2.2" fill="#e2e1e8" stroke="#000" stroke-width="1.05"/>
<circle cx="62.20" cy="246.00" r="2.2" fill="#e2e1e8" stroke="#000" stroke-width="1.05"/>
<circle cx="63.20" cy="248.80" r="2.2" fill="#e2e1e8" stroke="#000" stroke-width="1.05"/>
<circle cx="64.20" cy="252.00" r="2.2" fill="#e2e1e8" stroke="#000" stroke-width="1.05"/>
<circle cx="60.20" cy="222.00" r="2.2" fill="#e2e1e8" stroke="#000" stroke-width="1.05"/>
<circle cx="66.20" cy="228.00" r="2.2" fill="#e2e1e8" stroke="#000" stroke-width="1.05"/>
<circle cx="60.20" cy="232.50" r="2.2" fill="#e2e1e8" stroke="#000" stroke-width="1.05"/>
<circle cx="66.20" cy="236.00" r="2.2" fill="#e2e1e8" stroke="#000" stroke-width="1.05"/>
<circle cx="65.20" cy="218.50" r="2.2" fill="#e2e1e8" stroke="#000" stroke-width="1.05"/>
<circle cx="79.20" cy="225.30" r="2.2" fill="#6cbf45" stroke="#000" stroke-width="1.05"/>
<circle cx="78.20" cy="231.20" r="2.2" fill="#6cbf45" stroke="#000" stroke-width="1.05"/>
<circle cx="80.20" cy="232.80" r="2.2" fill="#6cbf45" stroke="#000" stroke-width="1.05"/>
<circle cx="79.20" cy="235.00" r="2.2" fill="#6cbf45" stroke="#000" stroke-width="1.05"/>
<circle cx="78.20" cy="237.70" r="2.2" fill="#6cbf45" stroke="#000" stroke-width="1.05"/>
<circle cx="78.00" cy="239.80" r="2.2" fill="#6cbf45" stroke="#000" stroke-width="1.05"/>
<circle cx="82.00" cy="241.50" r="2.2" fill="#6cbf45" stroke="#000" stroke-width="1.05"/>
<circle cx="76.00" cy="244.20" r="2.2" fill="#6cbf45" stroke="#000" stroke-width="1.05"/>
<circle cx="78.00" cy="248.00" r="2.2" fill="#6cbf45" stroke="#000" stroke-width="1.05"/>
<circle cx="79.20" cy="249.60" r="2.2" fill="#6cbf45" stroke="#000" stroke-width="1.05"/>
<circle cx="79.70" cy="255.50" r="2.2" fill="#6cbf45" stroke="#000" stroke-width="1.05"/>
<circle cx="95.60" cy="231.40" r="2.2" fill="#3465ad" stroke="#000" stroke-width="1.05"/>
<circle cx="94.10" cy="237.10" r="2.2" fill="#3465ad" stroke="#000" stroke-width="1.05"/>
<circle cx="97.10" cy="238.20" r="2.2" fill="#3465ad" stroke="#000" stroke-width="1.05"/>
<circle cx="95.10" cy="244.20" r="2.2" fill="#3465ad" stroke="#000" stroke-width="1.05"/>
<circle cx="96.20" cy="246.90" r="2.2" fill="#3465ad" stroke="#000" stroke-width="1.05"/>
<circle cx="93.20" cy="249.60" r="2.2" fill="#3465ad" stroke="#000" stroke-width="1.05"/>
<circle cx="96.20" cy="251.70" r="2.2" fill="#3465ad" stroke="#000" stroke-width="1.05"/>
<circle cx="97.70" cy="255.50" r="2.2" fill="#3465ad" stroke="#000" stroke-width="1.05"/>
<circle cx="113.70" cy="238.80" r="2.2" fill="#d3143a" stroke="#000" stroke-width="1.05"/>
<circle cx="108.40" cy="240.90" r="2.2" fill="#d3143a" stroke="#000" stroke-width="1.05"/>
<circle cx="111.80" cy="243.60" r="2.2" fill="#d3143a" stroke="#000" stroke-width="1.05"/>
<circle cx="110.30" cy="248.50" r="2.2" fill="#d3143a" stroke="#000" stroke-width="1.05"/>
<circle cx="112.40" cy="251.20" r="2.2" fill="#d3143a" stroke="#000" stroke-width="1.05"/>
<line x1="57.7" y1="227.9" x2="68.7" y2="227.9" stroke="#111" stroke-width="1.2"/>
<line x1="73.7" y1="241.5" x2="84.7" y2="241.5" stroke="#111" stroke-width="1.2"/>
<line x1="90.1" y1="248.5" x2="101.1" y2="248.5" stroke="#111" stroke-width="1.2"/>
<line x1="105.5" y1="242.0" x2="116.5" y2="242.0" stroke="#111" stroke-width="1.2"/>
<path d="M62.800000000000004,178.5 V175.5 H109.4 V178.5" fill="none" stroke="#1a1a1a" stroke-width="1.0"/>
<path d="M86.10,171.40L86.10,170.15M86.10,171.40L87.29,171.01M86.10,171.40L86.83,172.41M86.10,171.40L85.37,172.41M86.10,171.40L84.91,171.01" stroke="#1a1a1a" stroke-width="0.9" stroke-linecap="round" fill="none"/>
<path d="M62.800000000000004,188.4 V185.4 H95.5 V188.4" fill="none" stroke="#1a1a1a" stroke-width="1.0"/>
<path d="M73.83,181.30L73.83,180.05M73.83,181.30L75.01,180.91M73.83,181.30L74.56,182.31M73.83,181.30L73.09,182.31M73.83,181.30L72.64,180.91" stroke="#1a1a1a" stroke-width="0.9" stroke-linecap="round" fill="none"/>
<path d="M77.38,181.30L77.38,180.05M77.38,181.30L78.56,180.91M77.38,181.30L78.11,182.31M77.38,181.30L76.64,182.31M77.38,181.30L76.19,180.91" stroke="#1a1a1a" stroke-width="0.9" stroke-linecap="round" fill="none"/>
<path d="M80.92,181.30L80.92,180.05M80.92,181.30L82.11,180.91M80.92,181.30L81.66,182.31M80.92,181.30L80.19,182.31M80.92,181.30L79.74,180.91" stroke="#1a1a1a" stroke-width="0.9" stroke-linecap="round" fill="none"/>
<path d="M84.47,181.30L84.47,180.05M84.47,181.30L85.66,180.91M84.47,181.30L85.21,182.31M84.47,181.30L83.74,182.31M84.47,181.30L83.29,180.91" stroke="#1a1a1a" stroke-width="0.9" stroke-linecap="round" fill="none"/>
<path d="M62.800000000000004,198.3 V195.3 H79.5 V198.3" fill="none" stroke="#1a1a1a" stroke-width="1.0"/>
<path d="M69.38,191.20L69.38,189.95M69.38,191.20L70.56,190.81M69.38,191.20L70.11,192.21M69.38,191.20L68.64,192.21M69.38,191.20L68.19,190.81" stroke="#1a1a1a" stroke-width="0.9" stroke-linecap="round" fill="none"/>
<path d="M72.92,191.20L72.92,189.95M72.92,191.20L74.11,190.81M72.92,191.20L73.66,192.21M72.92,191.20L72.19,192.21M72.92,191.20L71.74,190.81" stroke="#1a1a1a" stroke-width="0.9" stroke-linecap="round" fill="none"/>
<line x1="182.6" y1="182.9" x2="182.6" y2="256.8" stroke="#1a1a1a" stroke-width="1.1"/>
<line x1="182.1" y1="256.3" x2="251.4" y2="256.3" stroke="#1a1a1a" stroke-width="1.3"/>
<line x1="180.0" y1="255.8" x2="182.6" y2="255.8" stroke="#1a1a1a" stroke-width="1.0"/>
<text x="176.29999999999998" y="258.8" font-size="8.4" text-anchor="end">0</text>
<line x1="180.0" y1="241.9" x2="182.6" y2="241.9" stroke="#1a1a1a" stroke-width="1.0"/>
<text x="176.29999999999998" y="244.9" font-size="8.4" text-anchor="end">2500</text>
<line x1="180.0" y1="228.0" x2="182.6" y2="228.0" stroke="#1a1a1a" stroke-width="1.0"/>
<text x="176.29999999999998" y="231.0" font-size="8.4" text-anchor="end">5000</text>
<line x1="180.0" y1="214.0" x2="182.6" y2="214.0" stroke="#1a1a1a" stroke-width="1.0"/>
<text x="176.29999999999998" y="217.0" font-size="8.4" text-anchor="end">7500</text>
<line x1="180.0" y1="199.9" x2="182.6" y2="199.9" stroke="#1a1a1a" stroke-width="1.0"/>
<text x="176.29999999999998" y="202.9" font-size="8.4" text-anchor="end">10000</text>
<line x1="180.0" y1="185.9" x2="182.6" y2="185.9" stroke="#1a1a1a" stroke-width="1.0"/>
<text x="176.29999999999998" y="188.9" font-size="8.4" text-anchor="end">12500</text>
<line x1="193.4" y1="256.3" x2="193.4" y2="259.3" stroke="#1a1a1a" stroke-width="1.0"/>
<text x="193.4" y="269.6" font-size="8.6" text-anchor="middle">HC</text>
<line x1="209.2" y1="256.3" x2="209.2" y2="259.3" stroke="#1a1a1a" stroke-width="1.0"/>
<text x="209.2" y="269.6" font-size="8.6" text-anchor="middle">I</text>
<line x1="225.1" y1="256.3" x2="225.1" y2="259.3" stroke="#1a1a1a" stroke-width="1.0"/>
<text x="225.1" y="269.6" font-size="8.6" text-anchor="middle">II</text>
<line x1="241.1" y1="256.3" x2="241.1" y2="259.3" stroke="#1a1a1a" stroke-width="1.0"/>
<text x="241.1" y="269.6" font-size="8.6" text-anchor="middle">III</text>
<circle cx="193.40" cy="206.20" r="2.2" fill="#e2e1e8" stroke="#000" stroke-width="1.05"/>
<circle cx="193.40" cy="211.00" r="2.2" fill="#e2e1e8" stroke="#000" stroke-width="1.05"/>
<circle cx="192.40" cy="215.00" r="2.2" fill="#e2e1e8" stroke="#000" stroke-width="1.05"/>
<circle cx="194.40" cy="217.50" r="2.2" fill="#e2e1e8" stroke="#000" stroke-width="1.05"/>
<circle cx="191.40" cy="219.90" r="2.2" fill="#e2e1e8" stroke="#000" stroke-width="1.05"/>
<circle cx="195.40" cy="221.50" r="2.2" fill="#e2e1e8" stroke="#000" stroke-width="1.05"/>
<circle cx="193.40" cy="223.10" r="2.2" fill="#e2e1e8" stroke="#000" stroke-width="1.05"/>
<circle cx="191.40" cy="224.70" r="2.2" fill="#e2e1e8" stroke="#000" stroke-width="1.05"/>
<circle cx="195.40" cy="226.30" r="2.2" fill="#e2e1e8" stroke="#000" stroke-width="1.05"/>
<circle cx="193.40" cy="228.70" r="2.2" fill="#e2e1e8" stroke="#000" stroke-width="1.05"/>
<circle cx="192.40" cy="231.10" r="2.2" fill="#e2e1e8" stroke="#000" stroke-width="1.05"/>
<circle cx="194.40" cy="233.50" r="2.2" fill="#e2e1e8" stroke="#000" stroke-width="1.05"/>
<circle cx="193.40" cy="236.70" r="2.2" fill="#e2e1e8" stroke="#000" stroke-width="1.05"/>
<circle cx="190.40" cy="218.50" r="2.2" fill="#e2e1e8" stroke="#000" stroke-width="1.05"/>
<circle cx="196.40" cy="220.50" r="2.2" fill="#e2e1e8" stroke="#000" stroke-width="1.05"/>
<circle cx="190.40" cy="227.50" r="2.2" fill="#e2e1e8" stroke="#000" stroke-width="1.05"/>
<circle cx="196.40" cy="225.00" r="2.2" fill="#e2e1e8" stroke="#000" stroke-width="1.05"/>
<circle cx="194.90" cy="213.50" r="2.2" fill="#e2e1e8" stroke="#000" stroke-width="1.05"/>
<circle cx="205.20" cy="218.80" r="2.2" fill="#6cbf45" stroke="#000" stroke-width="1.05"/>
<circle cx="209.20" cy="218.80" r="2.2" fill="#6cbf45" stroke="#000" stroke-width="1.05"/>
<circle cx="213.20" cy="218.80" r="2.2" fill="#6cbf45" stroke="#000" stroke-width="1.05"/>
<circle cx="207.20" cy="221.50" r="2.2" fill="#6cbf45" stroke="#000" stroke-width="1.05"/>
<circle cx="211.20" cy="223.60" r="2.2" fill="#6cbf45" stroke="#000" stroke-width="1.05"/>
<circle cx="209.20" cy="228.70" r="2.2" fill="#6cbf45" stroke="#000" stroke-width="1.05"/>
<circle cx="208.20" cy="231.90" r="2.2" fill="#6cbf45" stroke="#000" stroke-width="1.05"/>
<circle cx="210.20" cy="233.50" r="2.2" fill="#6cbf45" stroke="#000" stroke-width="1.05"/>
<circle cx="209.20" cy="238.00" r="2.2" fill="#6cbf45" stroke="#000" stroke-width="1.05"/>
<circle cx="209.20" cy="246.70" r="2.2" fill="#6cbf45" stroke="#000" stroke-width="1.05"/>
<circle cx="211.70" cy="226.00" r="2.2" fill="#6cbf45" stroke="#000" stroke-width="1.05"/>
<circle cx="206.70" cy="225.50" r="2.2" fill="#6cbf45" stroke="#000" stroke-width="1.05"/>
<circle cx="225.10" cy="217.80" r="2.2" fill="#3465ad" stroke="#000" stroke-width="1.05"/>
<circle cx="223.10" cy="223.60" r="2.2" fill="#3465ad" stroke="#000" stroke-width="1.05"/>
<circle cx="227.10" cy="224.70" r="2.2" fill="#3465ad" stroke="#000" stroke-width="1.05"/>
<circle cx="226.10" cy="227.90" r="2.2" fill="#3465ad" stroke="#000" stroke-width="1.05"/>
<circle cx="227.10" cy="232.20" r="2.2" fill="#3465ad" stroke="#000" stroke-width="1.05"/>
<circle cx="223.10" cy="235.90" r="2.2" fill="#3465ad" stroke="#000" stroke-width="1.05"/>
<circle cx="225.10" cy="238.30" r="2.2" fill="#3465ad" stroke="#000" stroke-width="1.05"/>
<circle cx="224.10" cy="241.50" r="2.2" fill="#3465ad" stroke="#000" stroke-width="1.05"/>
<circle cx="227.10" cy="245.60" r="2.2" fill="#3465ad" stroke="#000" stroke-width="1.05"/>
<circle cx="242.10" cy="211.90" r="2.2" fill="#d3143a" stroke="#000" stroke-width="1.05"/>
<circle cx="240.10" cy="216.70" r="2.2" fill="#d3143a" stroke="#000" stroke-width="1.05"/>
<circle cx="241.10" cy="224.70" r="2.2" fill="#d3143a" stroke="#000" stroke-width="1.05"/>
<circle cx="239.10" cy="229.50" r="2.2" fill="#d3143a" stroke="#000" stroke-width="1.05"/>
<circle cx="241.10" cy="233.50" r="2.2" fill="#d3143a" stroke="#000" stroke-width="1.05"/>
<circle cx="243.10" cy="235.90" r="2.2" fill="#d3143a" stroke="#000" stroke-width="1.05"/>
<line x1="187.9" y1="221.5" x2="198.9" y2="221.5" stroke="#111" stroke-width="1.2"/>
<line x1="203.7" y1="225.8" x2="214.7" y2="225.8" stroke="#111" stroke-width="1.2"/>
<line x1="219.6" y1="233.5" x2="230.6" y2="233.5" stroke="#111" stroke-width="1.2"/>
<line x1="235.6" y1="227.1" x2="246.6" y2="227.1" stroke="#111" stroke-width="1.2"/>
<line x1="241.5" y1="215.9" x2="241.5" y2="227.1" stroke="#1a1a1a" stroke-width="1.0"/>
<line x1="238.1" y1="215.9" x2="244.1" y2="215.9" stroke="#1a1a1a" stroke-width="1.0"/>
<line x1="241.5" y1="227.1" x2="241.5" y2="238" stroke="#1a1a1a" stroke-width="1.0"/>
<line x1="238.1" y1="238" x2="244.1" y2="238" stroke="#1a1a1a" stroke-width="1.0"/>
<path d="M193.0,180.7 V177.7 H239.5 V180.7" fill="none" stroke="#1a1a1a" stroke-width="1.0"/>
<text x="216.25" y="176.20" font-size="7.0" text-anchor="middle">n.s.</text>
<path d="M193.0,191.1 V188.1 H225.0 V191.1" fill="none" stroke="#1a1a1a" stroke-width="1.0"/>
<path d="M207.22,184.00L207.22,182.75M207.22,184.00L208.41,183.61M207.22,184.00L207.96,185.01M207.22,184.00L206.49,185.01M207.22,184.00L206.04,183.61" stroke="#1a1a1a" stroke-width="0.9" stroke-linecap="round" fill="none"/>
<path d="M210.78,184.00L210.78,182.75M210.78,184.00L211.96,183.61M210.78,184.00L211.51,185.01M210.78,184.00L210.04,185.01M210.78,184.00L209.59,183.61" stroke="#1a1a1a" stroke-width="0.9" stroke-linecap="round" fill="none"/>
<path d="M193.0,201.3 V198.3 H209.5 V201.3" fill="none" stroke="#1a1a1a" stroke-width="1.0"/>
<text x="201.25" y="196.80" font-size="7.0" text-anchor="middle">n.s.</text>
<line x1="417.9" y1="182.8" x2="417.9" y2="256.8" stroke="#1a1a1a" stroke-width="1.1"/>
<line x1="417.4" y1="256.3" x2="487" y2="256.3" stroke="#1a1a1a" stroke-width="1.3"/>
<line x1="415.29999999999995" y1="255.8" x2="417.9" y2="255.8" stroke="#1a1a1a" stroke-width="1.0"/>
<text x="411.59999999999997" y="258.8" font-size="8.4" text-anchor="end">0</text>
<line x1="415.29999999999995" y1="238.4" x2="417.9" y2="238.4" stroke="#1a1a1a" stroke-width="1.0"/>
<text x="411.59999999999997" y="241.4" font-size="8.4" text-anchor="end">20</text>
<line x1="415.29999999999995" y1="220.9" x2="417.9" y2="220.9" stroke="#1a1a1a" stroke-width="1.0"/>
<text x="411.59999999999997" y="223.9" font-size="8.4" text-anchor="end">40</text>
<line x1="415.29999999999995" y1="203.3" x2="417.9" y2="203.3" stroke="#1a1a1a" stroke-width="1.0"/>
<text x="411.59999999999997" y="206.3" font-size="8.4" text-anchor="end">60</text>
<line x1="415.29999999999995" y1="185.8" x2="417.9" y2="185.8" stroke="#1a1a1a" stroke-width="1.0"/>
<text x="411.59999999999997" y="188.8" font-size="8.4" text-anchor="end">80</text>
<line x1="428.6" y1="256.3" x2="428.6" y2="259.3" stroke="#1a1a1a" stroke-width="1.0"/>
<text x="428.6" y="270.2" font-size="8.6" text-anchor="middle">HC</text>
<line x1="444.4" y1="256.3" x2="444.4" y2="259.3" stroke="#1a1a1a" stroke-width="1.0"/>
<text x="444.4" y="270.2" font-size="8.6" text-anchor="middle">I</text>
<line x1="460.6" y1="256.3" x2="460.6" y2="259.3" stroke="#1a1a1a" stroke-width="1.0"/>
<text x="460.6" y="270.2" font-size="8.6" text-anchor="middle">II</text>
<line x1="476.8" y1="256.3" x2="476.8" y2="259.3" stroke="#1a1a1a" stroke-width="1.0"/>
<text x="476.8" y="270.2" font-size="8.6" text-anchor="middle">III</text>
<circle cx="431.60" cy="196.10" r="2.2" fill="#e2e1e8" stroke="#000" stroke-width="1.05"/>
<circle cx="429.60" cy="198.10" r="2.2" fill="#e2e1e8" stroke="#000" stroke-width="1.05"/>
<circle cx="426.60" cy="199.70" r="2.2" fill="#e2e1e8" stroke="#000" stroke-width="1.05"/>
<circle cx="428.60" cy="211.50" r="2.2" fill="#e2e1e8" stroke="#000" stroke-width="1.05"/>
<circle cx="427.60" cy="214.40" r="2.2" fill="#e2e1e8" stroke="#000" stroke-width="1.05"/>
<circle cx="429.60" cy="218.40" r="2.2" fill="#e2e1e8" stroke="#000" stroke-width="1.05"/>
<circle cx="426.60" cy="220.40" r="2.2" fill="#e2e1e8" stroke="#000" stroke-width="1.05"/>
<circle cx="430.60" cy="222.30" r="2.2" fill="#e2e1e8" stroke="#000" stroke-width="1.05"/>
<circle cx="428.60" cy="224.30" r="2.2" fill="#e2e1e8" stroke="#000" stroke-width="1.05"/>
<circle cx="427.60" cy="226.90" r="2.2" fill="#e2e1e8" stroke="#000" stroke-width="1.05"/>
<circle cx="428.60" cy="231.60" r="2.2" fill="#e2e1e8" stroke="#000" stroke-width="1.05"/>
<circle cx="427.60" cy="242.00" r="2.2" fill="#e2e1e8" stroke="#000" stroke-width="1.05"/>
<circle cx="428.60" cy="244.60" r="2.2" fill="#e2e1e8" stroke="#000" stroke-width="1.05"/>
<circle cx="444.40" cy="225.70" r="2.2" fill="#6cbf45" stroke="#000" stroke-width="1.05"/>
<circle cx="444.40" cy="232.20" r="2.2" fill="#6cbf45" stroke="#000" stroke-width="1.05"/>
<circle cx="444.40" cy="247.90" r="2.2" fill="#6cbf45" stroke="#000" stroke-width="1.05"/>
<circle cx="445.40" cy="250.90" r="2.2" fill="#6cbf45" stroke="#000" stroke-width="1.05"/>
<circle cx="442.40" cy="253.20" r="2.2" fill="#6cbf45" stroke="#000" stroke-width="1.05"/>
<circle cx="439.40" cy="252.40" r="2.2" fill="#6cbf45" stroke="#000" stroke-width="1.05"/>
<circle cx="460.60" cy="242.60" r="2.2" fill="#3465ad" stroke="#000" stroke-width="1.05"/>
<circle cx="459.60" cy="249.30" r="2.2" fill="#3465ad" stroke="#000" stroke-width="1.05"/>
<circle cx="461.60" cy="250.90" r="2.2" fill="#3465ad" stroke="#000" stroke-width="1.05"/>
<circle cx="460.60" cy="253.20" r="2.2" fill="#3465ad" stroke="#000" stroke-width="1.05"/>
<circle cx="462.60" cy="254.80" r="2.2" fill="#3465ad" stroke="#000" stroke-width="1.05"/>
<circle cx="473.80" cy="230.20" r="2.2" fill="#d3143a" stroke="#000" stroke-width="1.05"/>
<circle cx="479.80" cy="230.20" r="2.2" fill="#d3143a" stroke="#000" stroke-width="1.05"/>
<circle cx="473.80" cy="236.10" r="2.2" fill="#d3143a" stroke="#000" stroke-width="1.05"/>
<circle cx="477.80" cy="238.10" r="2.2" fill="#d3143a" stroke="#000" stroke-width="1.05"/>
<circle cx="477.80" cy="241.40" r="2.2" fill="#d3143a" stroke="#000" stroke-width="1.05"/>
<line x1="423.1" y1="219" x2="434.1" y2="219" stroke="#111" stroke-width="1.2"/>
<line x1="438.9" y1="251.9" x2="449.9" y2="251.9" stroke="#111" stroke-width="1.2"/>
<line x1="444.5" y1="232.2" x2="444.5" y2="251.9" stroke="#1a1a1a" stroke-width="1.0"/>
<line x1="441.4" y1="232.2" x2="447.4" y2="232.2" stroke="#1a1a1a" stroke-width="1.0"/>
<line x1="455.1" y1="251.9" x2="466.1" y2="251.9" stroke="#111" stroke-width="1.2"/>
<line x1="471.3" y1="233.5" x2="482.3" y2="233.5" stroke="#111" stroke-width="1.2"/>
<path d="M428.20000000000005,171.0 V168.0 H475.2 V171.0" fill="none" stroke="#1a1a1a" stroke-width="1.0"/>
<text x="451.70" y="166.50" font-size="7.0" text-anchor="middle">n.s.</text>
<path d="M428.20000000000005,181.1 V178.1 H460.5 V181.1" fill="none" stroke="#1a1a1a" stroke-width="1.0"/>
<path d="M439.03,174.00L439.03,172.75M439.03,174.00L440.21,173.61M439.03,174.00L439.76,175.01M439.03,174.00L438.29,175.01M439.03,174.00L437.84,173.61" stroke="#1a1a1a" stroke-width="0.9" stroke-linecap="round" fill="none"/>
<path d="M442.58,174.00L442.58,172.75M442.58,174.00L443.76,173.61M442.58,174.00L443.31,175.01M442.58,174.00L441.84,175.01M442.58,174.00L441.39,173.61" stroke="#1a1a1a" stroke-width="0.9" stroke-linecap="round" fill="none"/>
<path d="M446.13,174.00L446.13,172.75M446.13,174.00L447.31,173.61M446.13,174.00L446.86,175.01M446.13,174.00L445.39,175.01M446.13,174.00L444.94,173.61" stroke="#1a1a1a" stroke-width="0.9" stroke-linecap="round" fill="none"/>
<path d="M449.68,174.00L449.68,172.75M449.68,174.00L450.86,173.61M449.68,174.00L450.41,175.01M449.68,174.00L448.94,175.01M449.68,174.00L448.49,173.61" stroke="#1a1a1a" stroke-width="0.9" stroke-linecap="round" fill="none"/>
<path d="M428.20000000000005,190.9 V187.9 H444.7 V190.9" fill="none" stroke="#1a1a1a" stroke-width="1.0"/>
<path d="M432.90,183.80L432.90,182.55M432.90,183.80L434.09,183.41M432.90,183.80L433.63,184.81M432.90,183.80L432.17,184.81M432.90,183.80L431.71,183.41" stroke="#1a1a1a" stroke-width="0.9" stroke-linecap="round" fill="none"/>
<path d="M436.45,183.80L436.45,182.55M436.45,183.80L437.64,183.41M436.45,183.80L437.18,184.81M436.45,183.80L435.72,184.81M436.45,183.80L435.26,183.41" stroke="#1a1a1a" stroke-width="0.9" stroke-linecap="round" fill="none"/>
<path d="M440.00,183.80L440.00,182.55M440.00,183.80L441.19,183.41M440.00,183.80L440.73,184.81M440.00,183.80L439.27,184.81M440.00,183.80L438.81,183.41" stroke="#1a1a1a" stroke-width="0.9" stroke-linecap="round" fill="none"/>
<line x1="158.0" y1="320.8" x2="158.0" y2="394.6" stroke="#1a1a1a" stroke-width="1.1"/>
<line x1="157.5" y1="394.1" x2="227.2" y2="394.1" stroke="#1a1a1a" stroke-width="1.3"/>
<line x1="155.4" y1="393.6" x2="158.0" y2="393.6" stroke="#1a1a1a" stroke-width="1.0"/>
<text x="151.7" y="396.6" font-size="8.4" text-anchor="end">0</text>
<line x1="155.4" y1="378.0" x2="158.0" y2="378.0" stroke="#1a1a1a" stroke-width="1.0"/>
<text x="151.7" y="381.0" font-size="8.4" text-anchor="end">20</text>
<line x1="155.4" y1="362.4" x2="158.0" y2="362.4" stroke="#1a1a1a" stroke-width="1.0"/>
<text x="151.7" y="365.4" font-size="8.4" text-anchor="end">40</text>
<line x1="155.4" y1="346.8" x2="158.0" y2="346.8" stroke="#1a1a1a" stroke-width="1.0"/>
<text x="151.7" y="349.8" font-size="8.4" text-anchor="end">60</text>
<line x1="155.4" y1="331.1" x2="158.0" y2="331.1" stroke="#1a1a1a" stroke-width="1.0"/>
<text x="151.7" y="334.1" font-size="8.4" text-anchor="end">80</text>
<line x1="168.2" y1="394.1" x2="168.2" y2="397.1" stroke="#1a1a1a" stroke-width="1.0"/>
<text x="168.2" y="407.6" font-size="8.6" text-anchor="middle">HC</text>
<line x1="184.4" y1="394.1" x2="184.4" y2="397.1" stroke="#1a1a1a" stroke-width="1.0"/>
<text x="184.4" y="407.6" font-size="8.6" text-anchor="middle">I</text>
<line x1="200.7" y1="394.1" x2="200.7" y2="397.1" stroke="#1a1a1a" stroke-width="1.0"/>
<text x="200.7" y="407.6" font-size="8.6" text-anchor="middle">II</text>
<line x1="217.0" y1="394.1" x2="217.0" y2="397.1" stroke="#1a1a1a" stroke-width="1.0"/>
<text x="217.0" y="407.6" font-size="8.6" text-anchor="middle">III</text>
<circle cx="168.20" cy="337.30" r="2.2" fill="#e2e1e8" stroke="#000" stroke-width="1.05"/>
<circle cx="167.20" cy="340.70" r="2.2" fill="#e2e1e8" stroke="#000" stroke-width="1.05"/>
<circle cx="169.20" cy="344.00" r="2.2" fill="#e2e1e8" stroke="#000" stroke-width="1.05"/>
<circle cx="166.20" cy="346.90" r="2.2" fill="#e2e1e8" stroke="#000" stroke-width="1.05"/>
<circle cx="170.20" cy="348.80" r="2.2" fill="#e2e1e8" stroke="#000" stroke-width="1.05"/>
<circle cx="168.20" cy="355.10" r="2.2" fill="#e2e1e8" stroke="#000" stroke-width="1.05"/>
<circle cx="167.20" cy="364.10" r="2.2" fill="#e2e1e8" stroke="#000" stroke-width="1.05"/>
<circle cx="169.20" cy="366.00" r="2.2" fill="#e2e1e8" stroke="#000" stroke-width="1.05"/>
<circle cx="167.20" cy="371.80" r="2.2" fill="#e2e1e8" stroke="#000" stroke-width="1.05"/>
<circle cx="168.20" cy="374.70" r="2.2" fill="#e2e1e8" stroke="#000" stroke-width="1.05"/>
<circle cx="184.40" cy="347.30" r="2.2" fill="#6cbf45" stroke="#000" stroke-width="1.05"/>
<circle cx="184.40" cy="356.50" r="2.2" fill="#6cbf45" stroke="#000" stroke-width="1.05"/>
<circle cx="184.40" cy="384.90" r="2.2" fill="#6cbf45" stroke="#000" stroke-width="1.05"/>
<circle cx="182.40" cy="388.50" r="2.2" fill="#6cbf45" stroke="#000" stroke-width="1.05"/>
<circle cx="186.40" cy="392.90" r="2.2" fill="#6cbf45" stroke="#000" stroke-width="1.05"/>
<circle cx="200.70" cy="350.70" r="2.2" fill="#2d5ca6" stroke="#000" stroke-width="1.05"/>
<circle cx="200.70" cy="365.10" r="2.2" fill="#2d5ca6" stroke="#000" stroke-width="1.05"/>
<circle cx="200.70" cy="377.20" r="2.2" fill="#2d5ca6" stroke="#000" stroke-width="1.05"/>
<circle cx="200.70" cy="386.20" r="2.2" fill="#2d5ca6" stroke="#000" stroke-width="1.05"/>
<circle cx="217.00" cy="344.00" r="2.2" fill="#8a1a2e" stroke="#000" stroke-width="1.05"/>
<circle cx="217.00" cy="355.90" r="2.2" fill="#8a1a2e" stroke="#000" stroke-width="1.05"/>
<circle cx="217.00" cy="367.00" r="2.2" fill="#8a1a2e" stroke="#000" stroke-width="1.05"/>
<line x1="162.7" y1="348.4" x2="173.7" y2="348.4" stroke="#111" stroke-width="1.2"/>
<line x1="168.5" y1="337" x2="168.5" y2="348.4" stroke="#1a1a1a" stroke-width="1.0"/>
<line x1="165.2" y1="337" x2="171.2" y2="337" stroke="#1a1a1a" stroke-width="1.0"/>
<line x1="168.5" y1="348.4" x2="168.5" y2="360" stroke="#1a1a1a" stroke-width="1.0"/>
<line x1="165.2" y1="360" x2="171.2" y2="360" stroke="#1a1a1a" stroke-width="1.0"/>
<line x1="178.9" y1="387.2" x2="189.9" y2="387.2" stroke="#111" stroke-width="1.2"/>
<line x1="184.5" y1="347.3" x2="184.5" y2="387.2" stroke="#1a1a1a" stroke-width="1.0"/>
<line x1="181.4" y1="347.3" x2="187.4" y2="347.3" stroke="#1a1a1a" stroke-width="1.0"/>
<line x1="195.2" y1="371.2" x2="206.2" y2="371.2" stroke="#111" stroke-width="1.2"/>
<line x1="200.5" y1="354.2" x2="200.5" y2="371.2" stroke="#1a1a1a" stroke-width="1.0"/>
<line x1="197.7" y1="354.2" x2="203.7" y2="354.2" stroke="#1a1a1a" stroke-width="1.0"/>
<line x1="200.5" y1="371.2" x2="200.5" y2="383.3" stroke="#1a1a1a" stroke-width="1.0"/>
<line x1="197.7" y1="383.3" x2="203.7" y2="383.3" stroke="#1a1a1a" stroke-width="1.0"/>
<line x1="211.5" y1="355.9" x2="222.5" y2="355.9" stroke="#111" stroke-width="1.2"/>
<line x1="217.5" y1="344" x2="217.5" y2="355.9" stroke="#1a1a1a" stroke-width="1.0"/>
<line x1="214.0" y1="344" x2="220.0" y2="344" stroke="#1a1a1a" stroke-width="1.0"/>
<line x1="217.5" y1="355.9" x2="217.5" y2="367" stroke="#1a1a1a" stroke-width="1.0"/>
<line x1="214.0" y1="367" x2="220.0" y2="367" stroke="#1a1a1a" stroke-width="1.0"/>
<path d="M167.79999999999998,311.8 V308.8 H215.4 V311.8" fill="none" stroke="#1a1a1a" stroke-width="1.0"/>
<text x="191.60" y="307.30" font-size="7.0" text-anchor="middle">n.s.</text>
<path d="M167.79999999999998,322.1 V319.1 H200.6 V322.1" fill="none" stroke="#1a1a1a" stroke-width="1.0"/>
<text x="184.20" y="317.60" font-size="7.0" text-anchor="middle">n.s.</text>
<path d="M167.79999999999998,331.9 V328.9 H184.70000000000002 V331.9" fill="none" stroke="#1a1a1a" stroke-width="1.0"/>
<path d="M176.25,324.80L176.25,323.55M176.25,324.80L177.44,324.41M176.25,324.80L176.98,325.81M176.25,324.80L175.52,325.81M176.25,324.80L175.06,324.41" stroke="#1a1a1a" stroke-width="0.9" stroke-linecap="round" fill="none"/>
<line x1="397.3" y1="320.8" x2="397.3" y2="394.6" stroke="#1a1a1a" stroke-width="1.1"/>
<line x1="396.8" y1="394.1" x2="466.9" y2="394.1" stroke="#1a1a1a" stroke-width="1.3"/>
<line x1="394.7" y1="393.6" x2="397.3" y2="393.6" stroke="#1a1a1a" stroke-width="1.0"/>
<text x="391.0" y="396.6" font-size="8.4" text-anchor="end">0</text>
<line x1="394.7" y1="379.8" x2="397.3" y2="379.8" stroke="#1a1a1a" stroke-width="1.0"/>
<text x="391.0" y="382.8" font-size="8.4" text-anchor="end">20</text>
<line x1="394.7" y1="365.8" x2="397.3" y2="365.8" stroke="#1a1a1a" stroke-width="1.0"/>
<text x="391.0" y="368.8" font-size="8.4" text-anchor="end">40</text>
<line x1="394.7" y1="351.7" x2="397.3" y2="351.7" stroke="#1a1a1a" stroke-width="1.0"/>
<text x="391.0" y="354.7" font-size="8.4" text-anchor="end">60</text>
<line x1="394.7" y1="337.9" x2="397.3" y2="337.9" stroke="#1a1a1a" stroke-width="1.0"/>
<text x="391.0" y="340.9" font-size="8.4" text-anchor="end">80</text>
<line x1="394.7" y1="324.2" x2="397.3" y2="324.2" stroke="#1a1a1a" stroke-width="1.0"/>
<text x="391.0" y="327.2" font-size="8.4" text-anchor="end">100</text>
<line x1="407.5" y1="394.1" x2="407.5" y2="397.1" stroke="#1a1a1a" stroke-width="1.0"/>
<text x="407.5" y="407.8" font-size="8.6" text-anchor="middle">HC</text>
<line x1="423.9" y1="394.1" x2="423.9" y2="397.1" stroke="#1a1a1a" stroke-width="1.0"/>
<text x="423.9" y="407.8" font-size="8.6" text-anchor="middle">I</text>
<line x1="440.0" y1="394.1" x2="440.0" y2="397.1" stroke="#1a1a1a" stroke-width="1.0"/>
<text x="440.0" y="407.8" font-size="8.6" text-anchor="middle">II</text>
<line x1="456.4" y1="394.1" x2="456.4" y2="397.1" stroke="#1a1a1a" stroke-width="1.0"/>
<text x="456.4" y="407.8" font-size="8.6" text-anchor="middle">III</text>
<circle cx="407.50" cy="341.50" r="2.2" fill="#e2e1e8" stroke="#000" stroke-width="1.05"/>
<circle cx="407.50" cy="344.80" r="2.2" fill="#e2e1e8" stroke="#000" stroke-width="1.05"/>
<circle cx="406.50" cy="347.50" r="2.2" fill="#e2e1e8" stroke="#000" stroke-width="1.05"/>
<circle cx="408.50" cy="350.20" r="2.2" fill="#e2e1e8" stroke="#000" stroke-width="1.05"/>
<circle cx="405.50" cy="352.90" r="2.2" fill="#e2e1e8" stroke="#000" stroke-width="1.05"/>
<circle cx="409.50" cy="355.60" r="2.2" fill="#e2e1e8" stroke="#000" stroke-width="1.05"/>
<circle cx="407.50" cy="357.70" r="2.2" fill="#e2e1e8" stroke="#000" stroke-width="1.05"/>
<circle cx="406.50" cy="360.10" r="2.2" fill="#e2e1e8" stroke="#000" stroke-width="1.05"/>
<circle cx="408.50" cy="361.90" r="2.2" fill="#e2e1e8" stroke="#000" stroke-width="1.05"/>
<circle cx="407.50" cy="368.20" r="2.2" fill="#e2e1e8" stroke="#000" stroke-width="1.05"/>
<circle cx="420.90" cy="364.20" r="2.2" fill="#6cbf45" stroke="#000" stroke-width="1.05"/>
<circle cx="426.90" cy="364.20" r="2.2" fill="#6cbf45" stroke="#000" stroke-width="1.05"/>
<circle cx="422.90" cy="368.20" r="2.2" fill="#6cbf45" stroke="#000" stroke-width="1.05"/>
<circle cx="423.90" cy="371.40" r="2.2" fill="#6cbf45" stroke="#000" stroke-width="1.05"/>
<circle cx="422.90" cy="373.90" r="2.2" fill="#6cbf45" stroke="#000" stroke-width="1.05"/>
<circle cx="423.90" cy="379.00" r="2.2" fill="#6cbf45" stroke="#000" stroke-width="1.05"/>
<circle cx="438.50" cy="364.40" r="2.2" fill="#3465ad" stroke="#000" stroke-width="1.05"/>
<circle cx="441.50" cy="370.90" r="2.2" fill="#3465ad" stroke="#000" stroke-width="1.05"/>
<circle cx="437.90" cy="377.00" r="2.2" fill="#3465ad" stroke="#000" stroke-width="1.05"/>
<circle cx="441.00" cy="377.60" r="2.2" fill="#3465ad" stroke="#000" stroke-width="1.05"/>
<circle cx="442.00" cy="382.90" r="2.2" fill="#3465ad" stroke="#000" stroke-width="1.05"/>
<circle cx="456.00" cy="358.30" r="2.2" fill="#d3143a" stroke="#000" stroke-width="1.05"/>
<circle cx="453.40" cy="365.50" r="2.2" fill="#d3143a" stroke="#000" stroke-width="1.05"/>
<circle cx="458.80" cy="369.40" r="2.2" fill="#d3143a" stroke="#000" stroke-width="1.05"/>
<line x1="402.0" y1="355.6" x2="413.0" y2="355.6" stroke="#111" stroke-width="1.2"/>
<line x1="418.4" y1="368.2" x2="429.4" y2="368.2" stroke="#111" stroke-width="1.2"/>
<line x1="434.5" y1="377.2" x2="445.5" y2="377.2" stroke="#111" stroke-width="1.2"/>
<line x1="450.9" y1="365.5" x2="461.9" y2="365.5" stroke="#111" stroke-width="1.2"/>
<line x1="456.5" y1="358.3" x2="456.5" y2="365.5" stroke="#1a1a1a" stroke-width="1.0"/>
<line x1="453.4" y1="358.3" x2="459.4" y2="358.3" stroke="#1a1a1a" stroke-width="1.0"/>
<line x1="456.5" y1="365.5" x2="456.5" y2="369.5" stroke="#1a1a1a" stroke-width="1.0"/>
<line x1="453.4" y1="369.5" x2="459.4" y2="369.5" stroke="#1a1a1a" stroke-width="1.0"/>
<path d="M407.1,315.6 V312.6 H454.79999999999995 V315.6" fill="none" stroke="#1a1a1a" stroke-width="1.0"/>
<text x="430.95" y="311.10" font-size="7.0" text-anchor="middle">n.s.</text>
<path d="M407.1,325.6 V322.6 H439.9 V325.6" fill="none" stroke="#1a1a1a" stroke-width="1.0"/>
<path d="M419.95,318.50L419.95,317.25M419.95,318.50L421.14,318.11M419.95,318.50L420.68,319.51M419.95,318.50L419.22,319.51M419.95,318.50L418.76,318.11" stroke="#1a1a1a" stroke-width="0.9" stroke-linecap="round" fill="none"/>
<path d="M423.50,318.50L423.50,317.25M423.50,318.50L424.69,318.11M423.50,318.50L424.23,319.51M423.50,318.50L422.77,319.51M423.50,318.50L422.31,318.11" stroke="#1a1a1a" stroke-width="0.9" stroke-linecap="round" fill="none"/>
<path d="M427.05,318.50L427.05,317.25M427.05,318.50L428.24,318.11M427.05,318.50L427.78,319.51M427.05,318.50L426.32,319.51M427.05,318.50L425.86,318.11" stroke="#1a1a1a" stroke-width="0.9" stroke-linecap="round" fill="none"/>
<path d="M407.1,335.3 V332.3 H424.2 V335.3" fill="none" stroke="#1a1a1a" stroke-width="1.0"/>
<path d="M413.88,328.20L413.88,326.95M413.88,328.20L415.06,327.81M413.88,328.20L414.61,329.21M413.88,328.20L413.14,329.21M413.88,328.20L412.69,327.81" stroke="#1a1a1a" stroke-width="0.9" stroke-linecap="round" fill="none"/>
<path d="M417.43,328.20L417.43,326.95M417.43,328.20L418.61,327.81M417.43,328.20L418.16,329.21M417.43,328.20L416.69,329.21M417.43,328.20L416.24,327.81" stroke="#1a1a1a" stroke-width="0.9" stroke-linecap="round" fill="none"/>
<line x1="292.1" y1="183.2" x2="292.1" y2="256.6" stroke="#222" stroke-width="1.3"/>
<line x1="291.5" y1="256.0" x2="357.2" y2="256.0" stroke="#222" stroke-width="1.3"/>
<path d="M295.50,255.90 L295.53,255.85 L295.55,255.80 L295.58,255.77 L295.60,255.44 L295.63,255.73 L295.67,255.49 L295.71,255.68 L295.75,255.61 L295.81,254.88 L295.88,254.67 L295.96,255.40 L296.06,254.53 L296.17,254.23 L296.30,254.75 L296.45,253.78 L296.62,253.72 L296.81,252.81 L297.02,252.42 L297.24,251.28 L297.47,251.17 L297.71,250.77 L297.96,249.73 L298.21,249.30 L298.45,248.56 L298.70,247.25 L298.94,247.40 L299.18,246.63 L299.40,245.78 L299.61,244.99 L299.82,245.43 L300.02,244.54 L300.21,244.37 L300.41,244.11 L300.60,243.51 L300.79,243.33 L300.99,242.34 L301.20,242.38 L301.41,241.59 L301.64,241.73 L301.88,241.25 L302.13,239.98 L302.40,239.60 L302.68,239.26 L302.96,239.65 L303.24,238.64 L303.54,238.43 L303.83,237.64 L304.14,237.44 L304.46,236.87 L304.80,236.41 L305.15,236.24 L305.51,235.81 L305.90,235.73 L306.31,235.06 L306.74,234.90 L307.20,234.39 L307.69,234.11 L308.21,233.31 L308.76,232.30 L309.34,232.61 L309.93,232.27 L310.55,231.75 L311.17,230.93 L311.81,230.64 L312.45,229.65 L313.10,229.90 L313.74,229.21 L314.37,228.49 L314.99,227.87 L315.60,228.39 L316.20,228.20 L316.79,226.90 L317.38,227.38 L317.97,226.66 L318.55,226.10 L319.14,226.00 L319.72,226.27 L320.32,226.14 L320.91,225.00 L321.51,225.40 L322.12,224.55 L322.74,225.07 L323.36,224.43 L324.00,224.82 L324.64,224.72 L325.29,223.99 L325.95,224.34 L326.60,223.40 L327.27,222.96 L327.94,223.37 L328.61,222.57 L329.30,222.59 L329.99,222.66 L330.69,222.73 L331.40,222.07 L332.12,221.80 L332.86,222.55 L333.60,221.80 L334.36,222.36 L335.13,222.14 L335.91,221.43 L336.70,221.38 L337.51,221.31 L338.32,221.31 L339.14,221.13 L339.96,220.96 L340.80,220.91 L341.63,221.14 L342.47,220.54 L343.31,220.34 L344.16,220.55 L345.00,219.91 L345.88,219.87 L346.81,220.51 L347.78,219.90 L348.78,219.83 L349.80,219.14 L350.81,219.49 L351.81,219.58 L352.78,218.87 L353.71,219.44 L354.58,219.38 L355.38,218.68 L356.09,219.24 L356.70,219.01 L357.20,219.00" fill="none" stroke="#2e3650" stroke-width="1.35" stroke-linejoin="round"/>
<path d="M295.50,255.90 L295.53,255.87 L295.57,255.85 L295.60,255.83 L295.64,255.81 L295.68,255.79 L295.73,255.77 L295.78,255.73 L295.84,255.68 L295.92,255.62 L296.00,255.53 L296.10,255.42 L296.22,255.28 L296.35,255.11 L296.50,254.90 L296.67,254.65 L296.85,254.35 L297.04,254.02 L297.24,253.65 L297.46,253.25 L297.69,252.84 L297.94,252.41 L298.19,251.98 L298.46,251.54 L298.74,251.12 L299.04,250.70 L299.35,250.31 L299.67,249.94 L300.00,249.60 L300.34,249.29 L300.69,249.00 L301.06,248.72 L301.43,248.45 L301.81,248.19 L302.21,247.94 L302.62,247.69 L303.05,247.45 L303.49,247.22 L303.95,246.98 L304.43,246.74 L304.93,246.50 L305.45,246.25 L306.00,246.00 L306.58,245.74 L307.19,245.47 L307.84,245.20 L308.52,244.92 L309.21,244.64 L309.93,244.36 L310.65,244.09 L311.38,243.82 L312.11,243.55 L312.84,243.30 L313.56,243.05 L314.26,242.82 L314.94,242.60 L315.60,242.40 L316.23,242.22 L316.83,242.05 L317.41,241.89 L317.98,241.75 L318.54,241.62 L319.10,241.49 L319.65,241.38 L320.21,241.26 L320.78,241.15 L321.37,241.05 L321.98,240.94 L322.62,240.83 L323.29,240.72 L324.00,240.60 L324.75,240.48 L325.53,240.35 L326.35,240.23 L327.20,240.11 L328.06,239.99 L328.94,239.86 L329.84,239.74 L330.74,239.63 L331.64,239.51 L332.54,239.40 L333.43,239.29 L334.31,239.19 L335.17,239.09 L336.00,239.00 L336.82,238.91 L337.63,238.83 L338.44,238.76 L339.24,238.69 L340.04,238.62 L340.83,238.55 L341.61,238.49 L342.39,238.43 L343.17,238.38 L343.94,238.32 L344.71,238.27 L345.48,238.21 L346.24,238.16 L347.00,238.10 L347.78,238.04 L348.59,237.98 L349.42,237.92 L350.27,237.87 L351.12,237.81 L351.96,237.75 L352.79,237.69 L353.58,237.64 L354.34,237.59 L355.05,237.54 L355.70,237.50 L356.29,237.46 L356.79,237.43 L357.20,237.40" fill="none" stroke="#c0163e" stroke-width="1.35" stroke-linejoin="round"/>
<path d="M292.50,255.90 L292.69,255.89 L292.92,255.88 L293.19,255.86 L293.50,255.85 L293.84,255.84 L294.19,255.82 L294.56,255.80 L294.94,255.78 L295.32,255.76 L295.69,255.73 L296.05,255.70 L296.40,255.67 L296.71,255.64 L297.00,255.60 L297.25,255.56 L297.48,255.51 L297.69,255.46 L297.88,255.41 L298.06,255.36 L298.23,255.30 L298.41,255.24 L298.58,255.18 L298.77,255.11 L298.97,255.05 L299.19,254.99 L299.43,254.92 L299.70,254.86 L300.00,254.80 L300.32,254.74 L300.63,254.67 L300.94,254.60 L301.26,254.53 L301.59,254.46 L301.94,254.39 L302.31,254.32 L302.71,254.25 L303.14,254.18 L303.62,254.12 L304.13,254.05 L304.70,254.00 L305.32,253.95 L306.00,253.90 L306.74,253.86 L307.55,253.83 L308.40,253.80 L309.30,253.77 L310.25,253.75 L311.23,253.73 L312.25,253.72 L313.30,253.70 L314.38,253.69 L315.48,253.68 L316.59,253.66 L317.72,253.64 L318.86,253.62 L320.00,253.60 L321.16,253.57 L322.35,253.55 L323.57,253.52 L324.82,253.50 L326.08,253.47 L327.37,253.44 L328.68,253.41 L329.99,253.38 L331.32,253.35 L332.65,253.32 L333.99,253.29 L335.33,253.26 L336.67,253.23 L338.00,253.20 L339.38,253.17 L340.85,253.13 L342.38,253.09 L343.96,253.05 L345.56,253.01 L347.15,252.97 L348.73,252.92 L350.25,252.88 L351.71,252.85 L353.08,252.81 L354.33,252.78 L355.45,252.75 L356.42,252.72 L357.20,252.70" fill="none" stroke="#7cb85a" stroke-width="1.3" stroke-linejoin="round"/>
<text x="359.8" y="220.4" font-size="8.8" text-anchor="start">HC</text>
<text x="359.8" y="239.6" font-size="8.8" text-anchor="start">III</text>
<text x="359.8" y="255.6" font-size="8.8" text-anchor="start">I</text>
<text x="312.4" y="177.8" font-size="8.7" textLength="23.6" lengthAdjust="spacingAndGlyphs">CRP-X</text>
<text x="336.8" y="179.70" font-size="5.2">L</text>
<text x="326.0" y="266.9" font-size="8.6" text-anchor="middle">Time [s]</text>
<text class="v" transform="translate(285.3,219.3) rotate(-90)" x="0" y="0" font-size="8.3" text-anchor="middle" textLength="51.9" lengthAdjust="spacingAndGlyphs">% aggregation</text>
<line x1="32.0" y1="320.6" x2="32.0" y2="394.0" stroke="#222" stroke-width="1.3"/>
<line x1="31.4" y1="393.4" x2="96.8" y2="393.4" stroke="#222" stroke-width="1.3"/>
<path d="M41.00,393.40 L41.04,393.40 L41.08,393.40 L41.12,393.40 L41.17,393.55 L41.22,393.69 L41.28,393.76 L41.34,393.94 L41.41,393.69 L41.49,393.90 L41.58,392.81 L41.67,393.30 L41.77,393.84 L41.88,393.44 L42.00,393.68 L42.13,392.67 L42.28,393.04 L42.44,392.71 L42.60,393.00 L42.78,392.96 L42.97,392.21 L43.16,392.37 L43.35,392.34 L43.55,392.98 L43.74,392.65 L43.94,391.76 L44.13,392.33 L44.32,391.32 L44.50,391.64 L44.68,390.76 L44.86,390.28 L45.05,390.96 L45.23,389.77 L45.42,389.37 L45.61,389.85 L45.79,389.27 L45.98,388.10 L46.16,388.44 L46.34,387.46 L46.51,387.16 L46.68,386.13 L46.84,386.56 L47.00,385.83 L47.15,385.74 L47.28,385.23 L47.41,384.10 L47.53,383.77 L47.65,383.12 L47.76,382.68 L47.87,382.17 L47.98,382.04 L48.10,381.97 L48.22,380.82 L48.35,381.19 L48.49,380.34 L48.64,379.84 L48.80,379.98 L48.97,379.09 L49.15,378.40 L49.34,378.08 L49.53,377.83 L49.72,376.53 L49.92,377.10 L50.13,375.41 L50.35,375.74 L50.57,375.31 L50.80,373.78 L51.04,374.16 L51.28,373.11 L51.54,372.83 L51.80,371.61 L52.07,371.12 L52.35,370.75 L52.64,371.14 L52.94,369.68 L53.24,369.81 L53.55,369.47 L53.87,368.94 L54.19,367.69 L54.53,367.17 L54.87,366.84 L55.22,366.62 L55.57,365.31 L55.93,365.58 L56.30,365.16 L56.68,364.76 L57.07,363.30 L57.47,363.93 L57.88,362.45 L58.30,362.30 L58.73,362.18 L59.16,362.12 L59.59,361.00 L60.03,361.28 L60.47,360.42 L60.90,359.74 L61.34,359.35 L61.77,358.79 L62.20,358.29 L62.62,358.01 L63.04,358.29 L63.45,358.30 L63.87,356.95 L64.28,356.47 L64.69,357.27 L65.11,356.40 L65.53,355.92 L65.95,355.41 L66.38,355.54 L66.82,355.52 L67.27,354.79 L67.73,354.47 L68.20,353.77 L68.68,354.54 L69.16,353.23 L69.64,353.55 L70.12,353.73 L70.62,352.66 L71.12,353.17 L71.62,353.22 L72.15,352.64 L72.68,352.63 L73.23,351.63 L73.79,351.84 L74.37,351.32 L74.98,351.98 L75.60,351.15 L76.25,351.18 L76.92,351.68 L77.62,351.35 L78.34,351.35 L79.08,350.58 L79.83,350.49 L80.59,350.65 L81.36,350.23 L82.13,349.88 L82.91,349.90 L83.69,349.48 L84.47,349.65 L85.24,350.28 L86.00,350.15 L86.78,349.66 L87.62,349.42 L88.48,349.14 L89.37,348.76 L90.27,348.90 L91.17,349.44 L92.05,349.48 L92.91,348.81 L93.72,349.26 L94.49,349.20 L95.19,349.05 L95.82,348.97 L96.36,349.05 L96.80,348.70" fill="none" stroke="#2e3650" stroke-width="1.35" stroke-linejoin="round"/>
<path d="M43.50,393.40 L43.54,393.40 L43.59,393.40 L43.64,393.42 L43.70,393.24 L43.77,393.06 L43.84,393.63 L43.91,393.00 L43.99,393.51 L44.08,393.32 L44.17,392.96 L44.27,393.42 L44.38,392.85 L44.48,393.22 L44.60,392.73 L44.72,392.64 L44.86,392.88 L45.00,393.19 L45.15,392.26 L45.31,392.21 L45.48,392.47 L45.64,392.64 L45.81,392.03 L45.98,391.62 L46.15,392.03 L46.32,390.77 L46.49,391.42 L46.65,390.54 L46.80,390.11 L46.94,389.82 L47.07,389.78 L47.18,390.10 L47.29,389.16 L47.40,389.35 L47.50,389.15 L47.61,388.58 L47.73,388.46 L47.86,387.59 L48.00,387.20 L48.16,386.93 L48.35,386.96 L48.56,386.14 L48.80,385.40 L49.07,384.98 L49.37,384.03 L49.70,382.96 L50.05,382.54 L50.42,381.41 L50.80,379.86 L51.20,379.14 L51.60,378.00 L52.01,377.30 L52.42,376.09 L52.83,374.59 L53.23,374.40 L53.62,372.57 L54.00,372.11 L54.36,371.77 L54.72,370.43 L55.06,370.18 L55.40,369.10 L55.73,369.24 L56.07,368.83 L56.41,368.12 L56.76,367.97 L57.12,366.89 L57.50,366.85 L57.89,366.29 L58.30,365.82 L58.74,365.22 L59.20,365.17 L59.69,364.81 L60.21,363.81 L60.76,363.53 L61.32,362.39 L61.91,362.62 L62.50,362.09 L63.11,362.02 L63.73,361.39 L64.35,360.37 L64.97,360.07 L65.59,359.99 L66.20,358.92 L66.81,359.07 L67.40,358.43 L67.98,358.10 L68.55,357.79 L69.12,358.36 L69.68,357.46 L70.24,357.42 L70.80,357.42 L71.36,357.81 L71.93,356.82 L72.51,357.11 L73.10,357.11 L73.70,357.37 L74.31,357.19 L74.95,357.12 L75.60,356.36 L76.27,356.38 L76.97,356.21 L77.68,356.67 L78.40,356.65 L79.14,355.66 L79.88,355.59 L80.64,355.56 L81.40,355.47 L82.17,355.67 L82.94,355.70 L83.71,355.26 L84.47,354.90 L85.24,355.28 L86.00,355.16 L86.78,355.30 L87.62,355.66 L88.48,355.31 L89.37,355.05 L90.27,355.11 L91.17,355.12 L92.05,354.38 L92.91,355.26 L93.72,355.08 L94.49,355.14 L95.19,355.02 L95.82,354.54 L96.36,354.52 L96.80,354.60" fill="none" stroke="#c0163e" stroke-width="1.35" stroke-linejoin="round"/>
<path d="M32.00,393.40 L32.64,393.40 L33.45,393.40 L34.40,393.40 L35.48,393.41 L36.65,393.41 L37.89,393.42 L39.17,393.42 L40.47,393.42 L41.77,393.41 L43.04,393.40 L44.25,393.39 L45.38,393.37 L46.40,393.34 L47.30,393.30 L48.08,393.25 L48.78,393.20 L49.41,393.14 L49.99,393.07 L50.52,393.00 L51.01,392.92 L51.48,392.84 L51.94,392.76 L52.39,392.67 L52.85,392.58 L53.33,392.49 L53.85,392.39 L54.40,392.30 L55.00,392.20 L55.64,392.10 L56.30,392.00 L56.98,391.88 L57.67,391.77 L58.38,391.65 L59.09,391.53 L59.82,391.41 L60.55,391.29 L61.29,391.17 L62.03,391.05 L62.78,390.93 L63.52,390.82 L64.26,390.71 L65.00,390.60 L65.74,390.50 L66.48,390.39 L67.24,390.29 L67.99,390.19 L68.75,390.09 L69.51,390.00 L70.28,389.90 L71.04,389.81 L71.80,389.72 L72.57,389.63 L73.33,389.54 L74.09,389.46 L74.85,389.38 L75.60,389.30 L76.35,389.23 L77.09,389.16 L77.83,389.09 L78.57,389.03 L79.31,388.97 L80.05,388.91 L80.79,388.86 L81.53,388.80 L82.26,388.75 L83.01,388.70 L83.75,388.65 L84.50,388.60 L85.25,388.55 L86.00,388.50 L86.78,388.45 L87.62,388.40 L88.48,388.35 L89.37,388.30 L90.27,388.25 L91.17,388.20 L92.05,388.15 L92.91,388.10 L93.72,388.06 L94.49,388.02 L95.19,387.99 L95.82,387.95 L96.36,387.92 L96.80,387.90" fill="none" stroke="#7cb85a" stroke-width="1.3" stroke-linejoin="round"/>
<text x="99.4" y="349.4" font-size="8.8" text-anchor="start">HC</text>
<text x="99.4" y="358.0" font-size="8.8" text-anchor="start">III</text>
<text x="99.4" y="390.2" font-size="8.8" text-anchor="start">I</text>
<text x="66.0" y="314.8" font-size="8.6" text-anchor="middle">Rhodocytin</text>
<text x="66.0" y="405.0" font-size="8.6" text-anchor="middle">Time [s]</text>
<text class="v" transform="translate(24.9,356.7) rotate(-90)" x="0" y="0" font-size="8.3" text-anchor="middle" textLength="51.9" lengthAdjust="spacingAndGlyphs">% aggregation</text>
<line x1="267.3" y1="320.5" x2="267.3" y2="394.0" stroke="#222" stroke-width="1.3"/>
<line x1="266.7" y1="393.4" x2="333.5" y2="393.4" stroke="#222" stroke-width="1.3"/>
<path d="M267.50,393.20 L267.59,392.75 L267.69,392.18 L267.81,391.52 L267.95,390.73 L268.10,389.84 L268.26,388.76 L268.43,388.52 L268.60,386.83 L268.78,386.36 L268.95,385.82 L269.13,384.23 L269.29,383.84 L269.45,383.16 L269.60,381.99 L269.74,381.71 L269.87,381.46 L270.00,380.73 L270.12,380.50 L270.24,379.54 L270.37,379.19 L270.49,378.67 L270.61,378.63 L270.74,378.61 L270.88,377.93 L271.02,377.70 L271.17,376.95 L271.33,376.86 L271.50,375.84 L271.68,375.56 L271.87,375.45 L272.06,375.03 L272.26,374.30 L272.47,373.53 L272.68,373.22 L272.89,372.71 L273.12,372.31 L273.35,372.33 L273.58,371.33 L273.83,371.51 L274.08,371.07 L274.34,369.91 L274.60,369.79 L274.87,369.50 L275.14,368.68 L275.41,368.66 L275.69,368.71 L275.98,367.63 L276.27,367.70 L276.57,366.92 L276.88,366.98 L277.20,366.92 L277.53,365.97 L277.87,365.47 L278.23,365.22 L278.61,365.33 L279.00,364.57 L279.41,364.34 L279.83,364.44 L280.27,364.56 L280.73,363.85 L281.20,363.58 L281.68,363.56 L282.17,362.84 L282.67,363.06 L283.18,362.48 L283.69,362.66 L284.21,362.77 L284.74,361.77 L285.27,362.03 L285.80,361.90 L286.33,361.31 L286.87,361.25 L287.42,361.75 L287.96,361.60 L288.52,360.67 L289.08,361.06 L289.65,361.15 L290.23,360.38 L290.81,360.60 L291.41,359.98 L292.02,360.17 L292.63,360.34 L293.26,360.17 L293.90,360.25 L294.55,359.54 L295.19,359.70 L295.84,360.09 L296.50,359.77 L297.16,359.58 L297.84,359.48 L298.52,359.96 L299.23,359.54 L299.95,359.00 L300.69,359.66 L301.45,359.21 L302.24,359.28 L303.05,359.06 L303.90,359.25 L304.78,359.13 L305.69,358.92 L306.62,359.41 L307.59,358.94 L308.58,359.57 L309.58,358.91 L310.61,359.61 L311.64,359.66 L312.69,359.41 L313.75,359.64 L314.81,359.26 L315.88,359.74 L316.94,359.49 L318.00,359.36 L319.10,360.06 L320.28,359.61 L321.51,359.64 L322.78,360.14 L324.07,359.76 L325.36,360.10 L326.63,359.72 L327.87,360.40 L329.05,359.94 L330.16,359.81 L331.18,360.70 L332.09,360.03 L332.87,360.77 L333.50,360.40" fill="none" stroke="#2e3650" stroke-width="1.35" stroke-linejoin="round"/>
<path d="M267.50,393.20 L267.61,392.76 L267.73,392.21 L267.87,391.56 L268.03,390.83 L268.20,390.07 L268.38,389.34 L268.57,388.33 L268.78,387.45 L269.00,386.57 L269.23,385.55 L269.46,384.77 L269.70,383.97 L269.95,383.22 L270.20,382.28 L270.46,381.64 L270.74,380.87 L271.03,380.38 L271.33,379.64 L271.65,378.75 L271.97,378.34 L272.29,377.67 L272.63,376.93 L272.96,376.30 L273.29,375.57 L273.63,374.97 L273.96,374.61 L274.28,373.99 L274.60,373.61 L274.91,373.25 L275.21,372.87 L275.50,372.73 L275.79,372.50 L276.07,372.43 L276.36,372.17 L276.65,372.07 L276.95,371.90 L277.25,371.84 L277.57,371.68 L277.90,371.52 L278.25,371.62 L278.61,371.49 L279.00,371.30 L279.39,371.11 L279.75,370.84 L280.09,370.66 L280.44,370.53 L280.79,370.32 L281.15,370.39 L281.54,370.14 L281.97,370.14 L282.44,369.87 L282.96,369.91 L283.55,369.75 L284.21,369.38 L284.96,369.33 L285.80,369.42 L286.75,369.18 L287.83,369.22 L289.00,368.94 L290.26,368.74 L291.59,368.81 L292.98,368.75 L294.39,368.51 L295.83,368.36 L297.27,368.35 L298.69,368.47 L300.08,368.34 L301.43,368.08 L302.70,368.07 L303.90,367.98 L305.03,367.94 L306.11,368.14 L307.16,367.94 L308.18,368.05 L309.17,368.03 L310.15,367.96 L311.11,368.14 L312.07,367.99 L313.02,368.16 L313.99,368.03 L314.96,368.14 L315.95,368.09 L316.96,368.12 L318.00,368.34 L319.10,368.29 L320.28,368.15 L321.51,368.32 L322.78,368.12 L324.07,368.18 L325.36,368.31 L326.63,368.25 L327.87,368.09 L329.05,368.35 L330.16,368.12 L331.18,368.13 L332.09,368.28 L332.87,368.15 L333.50,368.20" fill="none" stroke="#c0163e" stroke-width="1.35" stroke-linejoin="round"/>
<path d="M267.50,393.20 L267.66,392.74 L267.87,392.16 L268.11,391.46 L268.38,390.68 L268.67,389.82 L268.98,388.92 L269.31,387.99 L269.64,387.06 L269.97,386.13 L270.31,385.24 L270.63,384.40 L270.94,383.63 L271.23,382.96 L271.50,382.40 L271.75,381.94 L271.98,381.54 L272.20,381.20 L272.41,380.91 L272.62,380.66 L272.82,380.45 L273.02,380.27 L273.23,380.12 L273.43,379.98 L273.65,379.85 L273.87,379.73 L274.10,379.60 L274.34,379.46 L274.60,379.30 L274.87,379.14 L275.14,378.98 L275.41,378.83 L275.69,378.70 L275.98,378.56 L276.27,378.44 L276.57,378.32 L276.88,378.22 L277.20,378.11 L277.53,378.02 L277.87,377.93 L278.23,377.85 L278.61,377.77 L279.00,377.70 L279.39,377.64 L279.77,377.58 L280.14,377.53 L280.51,377.49 L280.89,377.46 L281.28,377.43 L281.70,377.41 L282.14,377.40 L282.62,377.39 L283.15,377.38 L283.72,377.38 L284.35,377.38 L285.04,377.39 L285.80,377.40 L286.64,377.41 L287.56,377.44 L288.54,377.46 L289.59,377.50 L290.68,377.54 L291.82,377.58 L292.99,377.62 L294.18,377.67 L295.39,377.73 L296.61,377.78 L297.83,377.84 L299.04,377.89 L300.23,377.95 L301.40,378.00 L302.56,378.06 L303.73,378.11 L304.91,378.17 L306.10,378.24 L307.30,378.30 L308.50,378.37 L309.71,378.44 L310.91,378.51 L312.11,378.57 L313.31,378.64 L314.50,378.71 L315.68,378.77 L316.85,378.84 L318.00,378.90 L319.18,378.96 L320.41,379.03 L321.67,379.09 L322.96,379.16 L324.25,379.23 L325.53,379.29 L326.79,379.36 L328.00,379.42 L329.15,379.48 L330.23,379.53 L331.22,379.58 L332.11,379.63 L332.87,379.67 L333.50,379.70" fill="none" stroke="#7cb85a" stroke-width="1.3" stroke-linejoin="round"/>
<text x="334.0" y="360.6" font-size="8.8" text-anchor="start">HC</text>
<text x="334.0" y="370.8" font-size="8.8" text-anchor="start">III</text>
<text x="334.6" y="382.4" font-size="8.8" text-anchor="start">I</text>
<text x="301.5" y="315.4" font-size="8.6" text-anchor="middle" textLength="29.0" lengthAdjust="spacingAndGlyphs">TRAP-6</text>
<text x="301.8" y="406.0" font-size="8.6" text-anchor="middle">Time [s]</text>
<text class="v" transform="translate(260.9,356.7) rotate(-90)" x="0" y="0" font-size="8.3" text-anchor="middle" textLength="51.9" lengthAdjust="spacingAndGlyphs">% aggregation</text>
<rect x="0.5" y="0.5" width="519" height="416" fill="none" stroke="#000" stroke-width="1"/>
</svg>
</body></html>
